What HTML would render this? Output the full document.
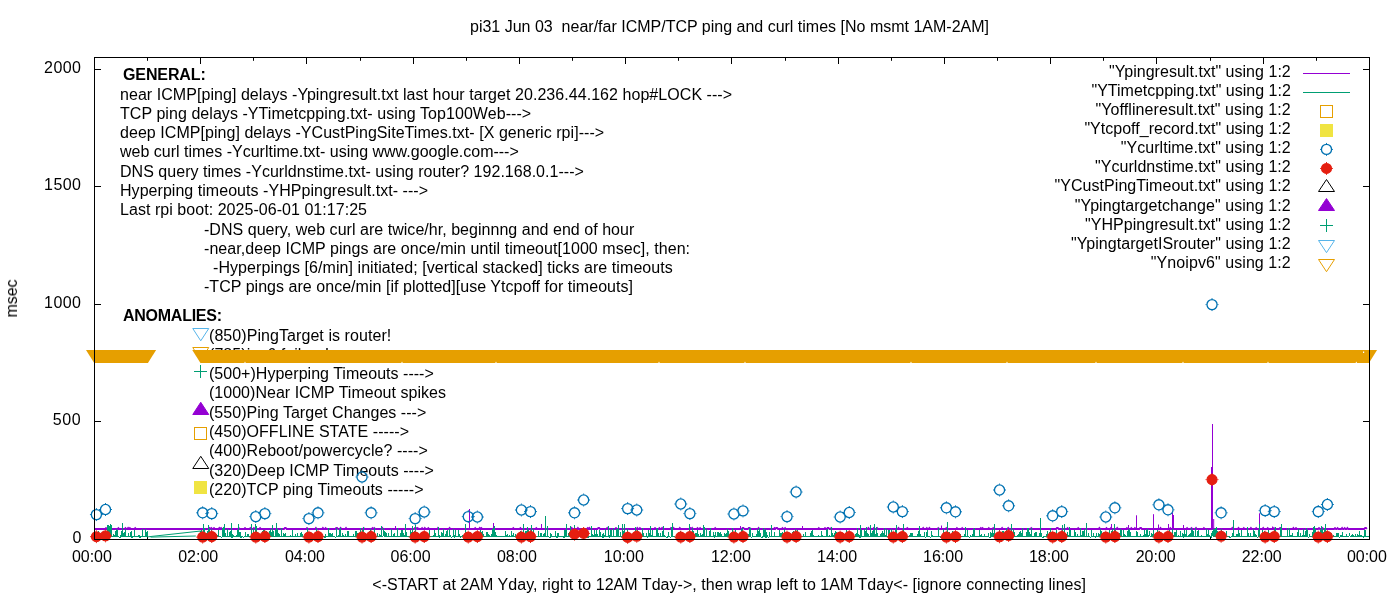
<!DOCTYPE html>
<html><head><meta charset="utf-8"><title>pi31 ping plot</title>
<style>html,body{margin:0;padding:0;background:#fff;overflow:hidden}svg{display:block}text{font-family:"Liberation Sans",Arial,sans-serif;font-size:16px;fill:#000}</style></head><body>
<svg width="1400" height="600" viewBox="0 0 1400 600">
<rect width="1400" height="600" fill="#fff"/>
<g style="will-change:transform">
<path d="M94.50 539.5v-6.5M94.50 57.5v6.5M147.50 539.5v-3.3M147.50 57.5v3.3M200.50 539.5v-6.5M200.50 57.5v6.5M253.50 539.5v-3.3M253.50 57.5v3.3M306.50 539.5v-6.5M306.50 57.5v6.5M360.50 539.5v-3.3M360.50 57.5v3.3M413.50 539.5v-6.5M413.50 57.5v6.5M466.50 539.5v-3.3M466.50 57.5v3.3M519.50 539.5v-6.5M519.50 57.5v6.5M572.50 539.5v-3.3M572.50 57.5v3.3M625.50 539.5v-6.5M625.50 57.5v6.5M678.50 539.5v-3.3M678.50 57.5v3.3M731.50 539.5v-6.5M731.50 57.5v6.5M785.50 539.5v-3.3M785.50 57.5v3.3M838.50 539.5v-6.5M838.50 57.5v6.5M891.50 539.5v-3.3M891.50 57.5v3.3M944.50 539.5v-6.5M944.50 57.5v6.5M997.50 539.5v-3.3M997.50 57.5v3.3M1050.50 539.5v-6.5M1050.50 57.5v6.5M1103.50 539.5v-3.3M1103.50 57.5v3.3M1156.50 539.5v-6.5M1156.50 57.5v6.5M1210.50 539.5v-3.3M1210.50 57.5v3.3M1263.50 539.5v-6.5M1263.50 57.5v6.5M1316.50 539.5v-3.3M1316.50 57.5v3.3M1369.50 539.5v-6.5M1369.50 57.5v6.5M94.5 539.50h6.5M1369.5 539.50h-6.5M94.5 421.50h6.5M1369.5 421.50h-6.5M94.5 304.50h6.5M1369.5 304.50h-6.5M94.5 186.50h6.5M1369.5 186.50h-6.5M94.5 69.50h6.5M1369.5 69.50h-6.5" stroke="#000" stroke-width="1" fill="none"/>
<text x="729.5" y="31.7" text-anchor="middle" xml:space="preserve">pi31 Jun 03  near/far ICMP/TCP ping and curl times [No msmt 1AM-2AM]</text>
<text transform="translate(17,298.5) rotate(-90)" text-anchor="middle">msec</text>
<text x="729.2" y="590" text-anchor="middle" letter-spacing="0.0396" xml:space="preserve">&lt;-START at 2AM Yday, right to 12AM Tday-&gt;, then wrap left to 1AM Tday&lt;- [ignore connecting lines]</text>
<text x="91.9" y="562" text-anchor="middle" xml:space="preserve">00:00</text>
<text x="198.2" y="562" text-anchor="middle" xml:space="preserve">02:00</text>
<text x="305.0" y="562" text-anchor="middle" xml:space="preserve">04:00</text>
<text x="410.6" y="562" text-anchor="middle" xml:space="preserve">06:00</text>
<text x="516.9" y="562" text-anchor="middle" xml:space="preserve">08:00</text>
<text x="623.8" y="562" text-anchor="middle" xml:space="preserve">10:00</text>
<text x="730.9" y="562" text-anchor="middle" xml:space="preserve">12:00</text>
<text x="837.1" y="562" text-anchor="middle" xml:space="preserve">14:00</text>
<text x="943.1" y="562" text-anchor="middle" xml:space="preserve">16:00</text>
<text x="1049.0" y="562" text-anchor="middle" xml:space="preserve">18:00</text>
<text x="1155.7" y="562" text-anchor="middle" xml:space="preserve">20:00</text>
<text x="1261.7" y="562" text-anchor="middle" xml:space="preserve">22:00</text>
<text x="1366.9" y="562" text-anchor="middle" xml:space="preserve">00:00</text>
<text x="81.3" y="542.8" text-anchor="end" xml:space="preserve">0</text>
<text x="81.3" y="424.8" text-anchor="end" letter-spacing="0.6000" xml:space="preserve">500</text>
<text x="81.3" y="307.8" text-anchor="end" letter-spacing="0.4000" xml:space="preserve">1000</text>
<text x="81.3" y="189.8" text-anchor="end" letter-spacing="0.4000" xml:space="preserve">1500</text>
<text x="81.3" y="72.8" text-anchor="end" letter-spacing="0.4000" xml:space="preserve">2000</text>
<text x="123" y="80" letter-spacing="-0.1143" font-weight="bold" xml:space="preserve">GENERAL:</text>
<text x="123" y="321" letter-spacing="-0.2556" font-weight="bold" xml:space="preserve">ANOMALIES:</text>
<text x="120" y="100" letter-spacing="0.0542" xml:space="preserve">near ICMP[ping] delays -Ypingresult.txt last hour target 20.236.44.162 hop#LOCK ---&gt;</text>
<text x="120" y="119" letter-spacing="0.0585" xml:space="preserve">TCP ping delays -YTimetcpping.txt- using Top100Web---&gt;</text>
<text x="120" y="138" letter-spacing="0.0485" xml:space="preserve">deep ICMP[ping] delays -YCustPingSiteTimes.txt- [X generic rpi]---&gt;</text>
<text x="120" y="157.4" xml:space="preserve">web curl times -Ycurltime.txt- using www.google.com---&gt;</text>
<text x="120" y="177" letter-spacing="0.0302" xml:space="preserve">DNS query times -Ycurldnstime.txt- using router? 192.168.0.1---&gt;</text>
<text x="120" y="196" letter-spacing="0.0405" xml:space="preserve">Hyperping timeouts -YHPpingresult.txt- ---&gt;</text>
<text x="120" y="215" letter-spacing="0.0455" xml:space="preserve">Last rpi boot: 2025-06-01 01:17:25</text>
<text x="204" y="234.5" letter-spacing="0.0328" xml:space="preserve">-DNS query, web curl are twice/hr, beginnng and end of hour</text>
<text x="204" y="253.5" letter-spacing="0.0523" xml:space="preserve">-near,deep ICMP pings are once/min until timeout[1000 msec], then:</text>
<text x="213" y="272.5" letter-spacing="0.0672" xml:space="preserve">-Hyperpings [6/min] initiated; [vertical stacked] ticks are timeouts</text>
<text x="204" y="291.5" letter-spacing="0.0344" xml:space="preserve">-TCP pings are once/min [if plotted][use Ytcpoff for timeouts]</text>
<text x="209" y="341" letter-spacing="0.0680" xml:space="preserve">(850)PingTarget is router!</text>
<text x="209" y="360" letter-spacing="0.0588" xml:space="preserve">(785)ipv6 failure!</text>
<text x="209" y="379" letter-spacing="0.0241" xml:space="preserve">(500+)Hyperping Timeouts ----&gt;</text>
<text x="209" y="398" letter-spacing="0.0241" xml:space="preserve">(1000)Near ICMP Timeout spikes</text>
<text x="209" y="418" letter-spacing="0.0357" xml:space="preserve">(550)Ping Target Changes ---&gt;</text>
<text x="209" y="437" letter-spacing="0.0417" xml:space="preserve">(450)OFFLINE STATE -----&gt;</text>
<text x="209" y="456" letter-spacing="0.0464" xml:space="preserve">(400)Reboot/powercycle? ----&gt;</text>
<text x="209" y="476" letter-spacing="0.0250" xml:space="preserve">(320)Deep ICMP Timeouts ----&gt;</text>
<text x="209" y="495" letter-spacing="0.0357" xml:space="preserve">(220)TCP ping Timeouts -----&gt;</text>
<text x="1290.8" y="77.1" text-anchor="end" letter-spacing="0.0308" xml:space="preserve">&quot;Ypingresult.txt&quot; using 1:2</text>
<text x="1290.8" y="96.2" text-anchor="end" xml:space="preserve">&quot;YTimetcpping.txt&quot; using 1:2</text>
<text x="1290.8" y="115.2" text-anchor="end" letter-spacing="0.0828" xml:space="preserve">&quot;Yofflineresult.txt&quot; using 1:2</text>
<text x="1290.8" y="134.3" text-anchor="end" letter-spacing="0.0172" xml:space="preserve">&quot;Ytcpoff_record.txt&quot; using 1:2</text>
<text x="1290.8" y="153.3" text-anchor="end" letter-spacing="0.0542" xml:space="preserve">&quot;Ycurltime.txt&quot; using 1:2</text>
<text x="1290.8" y="172.3" text-anchor="end" letter-spacing="0.0444" xml:space="preserve">&quot;Ycurldnstime.txt&quot; using 1:2</text>
<text x="1290.8" y="191.4" text-anchor="end" letter-spacing="0.0419" xml:space="preserve">&quot;YCustPingTimeout.txt&quot; using 1:2</text>
<text x="1290.8" y="210.5" text-anchor="end" letter-spacing="0.0714" xml:space="preserve">&quot;Ypingtargetchange&quot; using 1:2</text>
<text x="1290.8" y="229.5" text-anchor="end" letter-spacing="0.0500" xml:space="preserve">&quot;YHPpingresult.txt&quot; using 1:2</text>
<text x="1290.8" y="248.6" text-anchor="end" letter-spacing="0.0467" xml:space="preserve">&quot;YpingtargetISrouter&quot; using 1:2</text>
<text x="1290.8" y="267.6" text-anchor="end" letter-spacing="0.0722" xml:space="preserve">&quot;Ynoipv6&quot; using 1:2</text>
<path d="M192.75 328.50L200.75 340.80L208.75 328.50Z" fill="none" stroke="#56b4e9" stroke-width="1"/>
<path d="M192.75 347.50L200.75 360.20L208.75 347.50Z" fill="none" stroke="#e69f00" stroke-width="1"/>
<path d="M194.0 371.5h13M200.5 365.0v13" stroke="#009e73" stroke-width="1" fill="none"/>
<path d="M192.75 414.50L200.75 402.25L208.75 414.50Z" fill="#9400d3" stroke="#9400d3" stroke-width="1"/>
<rect x="194.5" y="427.5" width="12" height="12" fill="none" stroke="#e69f00" stroke-width="1"/>
<path d="M192.75 468.50L200.75 456.30L208.75 468.50Z" fill="none" stroke="#000" stroke-width="1"/>
<rect x="194.5" y="481.5" width="12" height="12" fill="#f0e442" stroke="#f0e442" stroke-width="1"/>
<path fill="none" stroke="#9400d3" stroke-width="1.8" stroke-linejoin="miter" d="M200.8 529.0L201.6 529.0L202.5 529.0L203.4 529.0L204.3 529.0L205.2 529.0L206.1 529.0L206.9 529.0L207.8 529.0L208.7 529.0L209.6 528.0L210.5 529.0L211.4 528.0L212.3 529.0L213.1 529.0L214.0 528.0L214.9 529.0L215.8 529.0L216.7 529.0L217.6 529.0L218.5 529.0L219.3 528.0L220.2 529.0L221.1 528.0L222.0 529.0L222.9 529.0L223.8 528.0L224.7 529.0L225.5 529.0L226.4 529.0L227.3 529.0L228.2 529.0L229.1 529.0L230.0 529.0L230.9 529.0L231.7 529.0L232.6 529.0L233.5 529.0L234.4 529.0L235.3 529.0L236.2 529.0L237.1 529.0L237.9 529.0L238.8 528.0L239.7 529.0L240.6 529.0L241.5 529.0L242.4 529.0L243.2 529.0L244.1 529.0L245.0 528.0L245.9 529.0L246.8 529.0L247.7 529.0L248.6 529.0L249.4 529.0L250.3 528.0L251.2 529.0L252.1 529.0L253.0 529.0L253.9 528.0L254.8 529.0L255.6 529.0L256.5 529.0L257.4 529.0L258.3 529.0L259.2 529.0L260.1 528.0L261.0 529.0L261.8 529.0L262.7 529.0L263.6 529.0L264.5 529.0L265.4 529.0L266.3 529.0L267.2 529.0L268.0 529.0L268.9 529.0L269.8 529.0L270.7 529.0L271.6 529.0L272.5 529.0L273.4 529.0L274.2 529.0L275.1 529.0L276.0 529.0L276.9 529.0L277.8 529.0L278.7 529.0L279.6 529.0L280.4 529.0L281.3 529.0L282.2 529.0L283.1 529.0L284.0 529.0L284.9 528.0L285.8 528.0L286.6 529.0L287.5 529.0L288.4 529.0L289.3 529.0L290.2 529.0L291.1 529.0L291.9 529.0L292.8 529.0L293.7 529.0L294.6 529.0L295.5 529.0L296.4 529.0L297.3 529.0L298.1 529.0L299.0 529.0L299.9 529.0L300.8 529.0L301.7 529.0L302.6 529.0L303.5 529.0L304.3 529.0L305.2 529.0L306.1 529.0L307.0 528.0L307.9 529.0L308.8 529.0L309.7 529.0L310.5 529.0L311.4 529.0L312.3 529.0L313.2 529.0L314.1 529.0L315.0 529.0L315.9 528.0L316.7 529.0L317.6 529.0L318.5 529.0L319.4 529.0L320.3 529.0L321.2 529.0L322.1 529.0L322.9 528.0L323.8 529.0L324.7 529.0L325.6 528.0L326.5 529.0L327.4 529.0L328.2 529.0L329.1 529.0L330.0 529.0L330.9 529.0L331.8 529.0L332.7 529.0L333.6 529.0L334.4 529.0L335.3 529.0L336.2 528.0L337.1 528.0L338.0 529.0L338.9 529.0L339.8 529.0L340.6 528.0L341.5 529.0L342.4 529.0L343.3 529.0L344.2 529.0L345.1 529.0L346.0 528.0L346.8 529.0L347.7 529.0L348.6 529.0L349.5 529.0L350.4 529.0L351.3 529.0L352.2 529.0L353.0 529.0L353.9 529.0L354.8 529.0L355.7 529.0L356.6 529.0L357.5 529.0L358.4 529.0L359.2 529.0L360.1 529.0L361.0 529.0L361.9 529.0L362.8 529.0L363.7 528.0L364.6 529.0L365.4 529.0L366.3 529.0L367.2 529.0L368.1 529.0L369.0 529.0L369.9 529.0L370.8 529.0L371.6 529.0L372.5 528.0L373.4 529.0L374.3 528.0L375.2 529.0L376.1 529.0L376.9 529.0L377.8 529.0L378.7 529.0L379.6 529.0L380.5 529.0L381.4 529.0L382.3 528.0L383.1 529.0L384.0 529.0L384.9 529.0L385.8 529.0L386.7 529.0L387.6 529.0L388.5 529.0L389.3 529.0L390.2 529.0L391.1 529.0L392.0 529.0L392.9 529.0L393.8 529.0L394.7 529.0L395.5 529.0L396.4 529.0L397.3 529.0L398.2 529.0L399.1 529.0L400.0 529.0L400.9 529.0L401.7 529.0L402.6 529.0L403.5 529.0L404.4 529.0L405.3 529.0L406.2 529.0L407.1 529.0L407.9 529.0L408.8 529.0L409.7 529.0L410.6 529.0L411.5 529.0L412.4 529.0L413.2 529.0L414.1 529.0L415.0 528.0L415.9 528.0L416.8 529.0L417.7 528.0L418.6 529.0L419.4 529.0L420.3 529.0L421.2 529.0L422.1 528.0L423.0 529.0L423.9 529.0L424.8 528.0L425.6 529.0L426.5 529.0L427.4 529.0L428.3 528.0L429.2 529.0L430.1 529.0L431.0 529.0L431.8 529.0L432.7 529.0L433.6 529.0L434.5 529.0L435.4 529.0L436.3 529.0L437.2 529.0L438.0 528.0L438.9 529.0L439.8 529.0L440.7 529.0L441.6 529.0L442.5 529.0L443.4 529.0L444.2 529.0L445.1 529.0L446.0 529.0L446.9 529.0L447.8 529.0L448.7 529.0L449.6 528.0L450.4 529.0L451.3 529.0L452.2 529.0L453.1 529.0L454.0 529.0L454.9 529.0L455.8 529.0L456.6 529.0L457.5 529.0L458.4 529.0L459.3 529.0L460.2 529.0L461.1 529.0L461.9 529.0L462.8 529.0L463.7 529.0L464.6 529.0L465.5 529.0L466.4 529.0L467.3 529.0L468.1 529.0L469.0 529.0L469.9 529.0L470.8 529.0L471.7 529.0L472.6 529.0L473.5 529.0L474.3 529.0L475.2 528.0L476.1 529.0L477.0 529.0L477.9 529.0L478.8 529.0L479.7 528.0L480.5 529.0L481.4 528.0L482.3 529.0L483.2 529.0L484.1 529.0L485.0 529.0L485.9 529.0L486.7 529.0L487.6 529.0L488.5 529.0L489.4 529.0L490.3 529.0L491.2 529.0L492.1 529.0L492.9 529.0L493.8 528.0L494.7 529.0L495.6 529.0L496.5 529.0L497.4 529.0L498.2 529.0L499.1 529.0L500.0 529.0L500.9 529.0L501.8 529.0L502.7 529.0L503.6 529.0L504.4 529.0L505.3 529.0L506.2 529.0L507.1 529.0L508.0 529.0L508.9 529.0L509.8 529.0L510.6 529.0L511.5 529.0L512.4 529.0L513.3 528.0L514.2 529.0L515.1 529.0L516.0 529.0L516.8 529.0L517.7 529.0L518.6 529.0L519.5 529.0L520.4 528.0L521.3 529.0L522.2 529.0L523.0 529.0L523.9 529.0L524.8 529.0L525.7 529.0L526.6 529.0L527.5 529.0L528.4 529.0L529.2 529.0L530.1 529.0L531.0 529.0L531.9 529.0L532.8 529.0L533.7 529.0L534.6 529.0L535.4 529.0L536.3 528.0L537.2 529.0L538.1 529.0L539.0 529.0L539.9 529.0L540.8 529.0L541.6 529.0L542.5 529.0L543.4 529.0L544.3 529.0L545.2 529.0L546.1 529.0L546.9 529.0L547.8 529.0L548.7 529.0L549.6 529.0L550.5 529.0L551.4 529.0L552.3 529.0L553.1 529.0L554.0 529.0L554.9 529.0L555.8 529.0L556.7 529.0L557.6 529.0L558.5 529.0L559.3 529.0L560.2 529.0L561.1 529.0L562.0 529.0L562.9 529.0L563.8 529.0L564.7 529.0L565.5 529.0L566.4 529.0L567.3 529.0L568.2 529.0L569.1 529.0L570.0 529.0L570.9 529.0L571.7 528.0L572.6 529.0L573.5 529.0L574.4 529.0L575.3 529.0L576.2 529.0L577.1 529.0L577.9 528.0L578.8 529.0L579.7 529.0L580.6 529.0L581.5 529.0L582.4 529.0L583.2 529.0L584.1 529.0L585.0 529.0L585.9 529.0L586.8 529.0L587.7 528.0L588.6 529.0L589.4 528.0L590.3 529.0L591.2 529.0L592.1 529.0L593.0 529.0L593.9 529.0L594.8 529.0L595.6 529.0L596.5 529.0L597.4 529.0L598.3 528.0L599.2 528.0L600.1 529.0L601.0 529.0L601.8 529.0L602.7 529.0L603.6 529.0L604.5 529.0L605.4 529.0L606.3 529.0L607.2 528.0L608.0 529.0L608.9 529.0L609.8 529.0L610.7 529.0L611.6 529.0L612.5 529.0L613.4 529.0L614.2 529.0L615.1 529.0L616.0 528.0L616.9 529.0L617.8 529.0L618.7 529.0L619.6 529.0L620.4 529.0L621.3 529.0L622.2 529.0L623.1 529.0L624.0 529.0L624.9 529.0L625.8 529.0L626.6 529.0L627.5 529.0L628.4 529.0L629.3 529.0L630.2 529.0L631.1 529.0L631.9 529.0L632.8 529.0L633.7 529.0L634.6 529.0L635.5 529.0L636.4 529.0L637.3 528.0L638.1 529.0L639.0 529.0L639.9 528.0L640.8 529.0L641.7 529.0L642.6 529.0L643.5 529.0L644.3 529.0L645.2 529.0L646.1 529.0L647.0 529.0L647.9 529.0L648.8 529.0L649.7 529.0L650.5 529.0L651.4 529.0L652.3 529.0L653.2 529.0L654.1 529.0L655.0 528.0L655.9 529.0L656.7 529.0L657.6 529.0L658.5 529.0L659.4 528.0L660.3 529.0L661.2 529.0L662.1 528.0L662.9 529.0L663.8 529.0L664.7 529.0L665.6 529.0L666.5 529.0L667.4 529.0L668.2 529.0L669.1 529.0L670.0 529.0L670.9 528.0L671.8 529.0L672.7 529.0L673.6 528.0L674.4 529.0L675.3 529.0L676.2 529.0L677.1 529.0L678.0 529.0L678.9 529.0L679.8 528.0L680.6 529.0L681.5 529.0L682.4 529.0L683.3 529.0L684.2 529.0L685.1 529.0L686.0 529.0L686.8 529.0L687.7 529.0L688.6 529.0L689.5 529.0L690.4 528.0L691.3 529.0L692.2 528.0L693.0 529.0L693.9 529.0L694.8 529.0L695.7 529.0L696.6 529.0L697.5 528.0L698.4 529.0L699.2 529.0L700.1 528.0L701.0 529.0L701.9 529.0L702.8 529.0L703.7 529.0L704.6 529.0L705.4 529.0L706.3 529.0L707.2 529.0L708.1 529.0L709.0 529.0L709.9 529.0L710.8 529.0L711.6 529.0L712.5 529.0L713.4 529.0L714.3 529.0L715.2 528.0L716.1 529.0L716.9 529.0L717.8 529.0L718.7 529.0L719.6 529.0L720.5 529.0L721.4 529.0L722.3 529.0L723.1 529.0L724.0 529.0L724.9 529.0L725.8 529.0L726.7 529.0L727.6 529.0L728.5 529.0L729.3 529.0L730.2 529.0L731.1 529.0L732.0 529.0L732.9 529.0L733.8 529.0L734.7 529.0L735.5 529.0L736.4 529.0L737.3 529.0L738.2 529.0L739.1 529.0L740.0 529.0L740.9 529.0L741.7 529.0L742.6 528.0L743.5 528.0L744.4 529.0L745.3 529.0L746.2 529.0L747.1 529.0L747.9 529.0L748.8 528.0L749.7 528.0L750.6 529.0L751.5 529.0L752.4 529.0L753.2 529.0L754.1 529.0L755.0 529.0L755.9 529.0L756.8 529.0L757.7 529.0L758.6 528.0L759.4 529.0L760.3 529.0L761.2 529.0L762.1 529.0L763.0 529.0L763.9 529.0L764.8 529.0L765.6 529.0L766.5 529.0L767.4 529.0L768.3 529.0L769.2 529.0L770.1 529.0L771.0 529.0L771.8 529.0L772.7 529.0L773.6 529.0L774.5 528.0L775.4 529.0L776.3 528.0L777.2 528.0L778.0 529.0L778.9 529.0L779.8 529.0L780.7 529.0L781.6 529.0L782.5 528.0L783.4 529.0L784.2 529.0L785.1 528.0L786.0 529.0L786.9 529.0L787.8 529.0L788.7 529.0L789.6 529.0L790.4 529.0L791.3 529.0L792.2 529.0L793.1 529.0L794.0 529.0L794.9 529.0L795.8 529.0L796.6 529.0L797.5 529.0L798.4 529.0L799.3 529.0L800.2 529.0L801.1 529.0L801.9 529.0L802.8 529.0L803.7 529.0L804.6 529.0L805.5 529.0L806.4 529.0L807.3 529.0L808.1 529.0L809.0 529.0L809.9 529.0L810.8 529.0L811.7 529.0L812.6 529.0L813.5 529.0L814.3 529.0L815.2 529.0L816.1 529.0L817.0 529.0L817.9 529.0L818.8 528.0L819.7 529.0L820.5 529.0L821.4 529.0L822.3 529.0L823.2 529.0L824.1 529.0L825.0 528.0L825.9 529.0L826.7 529.0L827.6 528.0L828.5 528.0L829.4 529.0L830.3 529.0L831.2 528.0L832.1 529.0L832.9 529.0L833.8 529.0L834.7 529.0L835.6 529.0L836.5 529.0L837.4 529.0L838.2 529.0L839.1 529.0L840.0 529.0L840.9 529.0L841.8 529.0L842.7 529.0L843.6 529.0L844.4 529.0L845.3 529.0L846.2 529.0L847.1 529.0L848.0 529.0L848.9 529.0L849.8 529.0L850.6 529.0L851.5 529.0L852.4 529.0L853.3 529.0L854.2 529.0L855.1 529.0L856.0 529.0L856.8 529.0L857.7 529.0L858.6 529.0L859.5 529.0L860.4 529.0L861.3 529.0L862.2 529.0L863.0 529.0L863.9 529.0L864.8 529.0L865.7 529.0L866.6 529.0L867.5 529.0L868.4 528.0L869.2 529.0L870.1 529.0L871.0 529.0L871.9 529.0L872.8 529.0L873.7 528.0L874.6 529.0L875.4 529.0L876.3 529.0L877.2 528.0L878.1 529.0L879.0 529.0L879.9 529.0L880.8 529.0L881.6 529.0L882.5 529.0L883.4 529.0L884.3 529.0L885.2 529.0L886.1 529.0L886.9 529.0L887.8 529.0L888.7 529.0L889.6 529.0L890.5 529.0L891.4 529.0L892.3 529.0L893.1 529.0L894.0 529.0L894.9 529.0L895.8 529.0L896.7 529.0L897.6 529.0L898.5 528.0L899.3 529.0L900.2 529.0L901.1 529.0L902.0 529.0L902.9 529.0L903.8 529.0L904.7 529.0L905.5 529.0L906.4 529.0L907.3 528.0L908.2 529.0L909.1 529.0L910.0 529.0L910.9 529.0L911.7 529.0L912.6 529.0L913.5 529.0L914.4 529.0L915.3 529.0L916.2 529.0L917.1 529.0L917.9 529.0L918.8 529.0L919.7 529.0L920.6 529.0L921.5 529.0L922.4 529.0L923.2 528.0L924.1 529.0L925.0 529.0L925.9 529.0L926.8 528.0L927.7 529.0L928.6 529.0L929.4 528.0L930.3 529.0L931.2 529.0L932.1 529.0L933.0 529.0L933.9 529.0L934.8 529.0L935.6 529.0L936.5 529.0L937.4 529.0L938.3 528.0L939.2 529.0L940.1 529.0L941.0 529.0L941.8 529.0L942.7 529.0L943.6 529.0L944.5 529.0L945.4 529.0L946.3 528.0L947.2 529.0L948.0 529.0L948.9 529.0L949.8 529.0L950.7 529.0L951.6 529.0L952.5 529.0L953.4 529.0L954.2 529.0L955.1 529.0L956.0 529.0L956.9 528.0L957.8 529.0L958.7 529.0L959.6 529.0L960.4 529.0L961.3 529.0L962.2 528.0L963.1 529.0L964.0 529.0L964.9 529.0L965.8 529.0L966.6 529.0L967.5 529.0L968.4 529.0L969.3 529.0L970.2 529.0L971.1 529.0L971.9 529.0L972.8 529.0L973.7 529.0L974.6 529.0L975.5 529.0L976.4 529.0L977.3 529.0L978.1 529.0L979.0 529.0L979.9 529.0L980.8 528.0L981.7 529.0L982.6 528.0L983.5 529.0L984.3 529.0L985.2 529.0L986.1 529.0L987.0 529.0L987.9 529.0L988.8 528.0L989.7 529.0L990.5 529.0L991.4 529.0L992.3 529.0L993.2 528.0L994.1 529.0L995.0 529.0L995.9 529.0L996.7 529.0L997.6 529.0L998.5 529.0L999.4 529.0L1000.3 529.0L1001.2 529.0L1002.1 528.0L1002.9 529.0L1003.8 529.0L1004.7 529.0L1005.6 529.0L1006.5 529.0L1007.4 529.0L1008.2 528.0L1009.1 529.0L1010.0 529.0L1010.9 529.0L1011.8 529.0L1012.7 529.0L1013.6 529.0L1014.4 529.0L1015.3 529.0L1016.2 529.0L1017.1 529.0L1018.0 529.0L1018.9 529.0L1019.8 529.0L1020.6 529.0L1021.5 529.0L1022.4 529.0L1023.3 529.0L1024.2 529.0L1025.1 529.0L1026.0 529.0L1026.8 529.0L1027.7 529.0L1028.6 529.0L1029.5 529.0L1030.4 529.0L1031.3 528.0L1032.2 529.0L1033.0 529.0L1033.9 529.0L1034.8 529.0L1035.7 529.0L1036.6 529.0L1037.5 529.0L1038.4 529.0L1039.2 529.0L1040.1 529.0L1041.0 529.0L1041.9 529.0L1042.8 529.0L1043.7 529.0L1044.6 529.0L1045.4 529.0L1046.3 529.0L1047.2 529.0L1048.1 529.0L1049.0 529.0L1049.9 529.0L1050.8 529.0L1051.6 529.0L1052.5 529.0L1053.4 529.0L1054.3 529.0L1055.2 529.0L1056.1 529.0L1056.9 528.0L1057.8 528.0L1058.7 529.0L1059.6 529.0L1060.5 529.0L1061.4 529.0L1062.3 529.0L1063.1 529.0L1064.0 529.0L1064.9 529.0L1065.8 529.0L1066.7 529.0L1067.6 528.0L1068.5 529.0L1069.3 529.0L1070.2 529.0L1071.1 529.0L1072.0 529.0L1072.9 529.0L1073.8 529.0L1074.7 529.0L1075.5 529.0L1076.4 529.0L1077.3 529.0L1078.2 528.0L1079.1 529.0L1080.0 529.0L1080.9 529.0L1081.7 529.0L1082.6 529.0L1083.5 529.0L1084.4 529.0L1085.3 529.0L1086.2 529.0L1087.1 529.0L1087.9 529.0L1088.8 529.0L1089.7 529.0L1090.6 529.0L1091.5 529.0L1092.4 529.0L1093.2 529.0L1094.1 529.0L1095.0 529.0L1095.9 529.0L1096.8 529.0L1097.7 529.0L1098.6 529.0L1099.4 528.0L1100.3 529.0L1101.2 529.0L1102.1 529.0L1103.0 529.0L1103.9 529.0L1104.8 529.0L1105.6 529.0L1106.5 528.0L1107.4 529.0L1108.3 529.0L1109.2 529.0L1110.1 529.0L1111.0 528.0L1111.8 529.0L1112.7 529.0L1113.6 529.0L1114.5 529.0L1115.4 529.0L1116.3 529.0L1117.2 528.0L1118.0 529.0L1118.9 529.0L1119.8 529.0L1120.7 529.0L1121.6 529.0L1122.5 529.0L1123.4 529.0L1124.2 529.0L1125.1 529.0L1126.0 529.0L1126.9 528.0L1127.8 529.0L1128.7 529.0L1129.6 529.0L1130.4 529.0L1131.3 528.0L1132.2 529.0L1133.1 529.0L1134.0 529.0L1134.9 528.0L1135.8 529.0L1136.6 529.0L1137.5 529.0L1138.4 529.0L1139.3 529.0L1140.2 528.0L1141.1 528.0L1141.9 529.0L1142.8 529.0L1143.7 529.0L1144.6 529.0L1145.5 529.0L1146.4 529.0L1147.3 529.0L1148.1 529.0L1149.0 529.0L1149.9 529.0L1150.8 529.0L1151.7 529.0L1152.6 529.0L1153.5 529.0L1154.3 529.0L1155.2 529.0L1156.1 529.0L1157.0 529.0L1157.9 529.0L1158.8 529.0L1159.7 529.0L1160.5 528.0L1161.4 529.0L1162.3 529.0L1163.2 529.0L1164.1 529.0L1165.0 529.0L1165.9 529.0L1166.7 529.0L1167.6 529.0L1168.5 529.0L1169.4 529.0L1170.3 528.0L1171.2 529.0L1172.1 529.0L1172.9 529.0L1173.8 529.0L1174.7 529.0L1175.6 529.0L1176.5 529.0L1177.4 529.0L1178.2 529.0L1179.1 529.0L1180.0 529.0L1180.9 529.0L1181.8 529.0L1182.7 529.0L1183.6 529.0L1184.4 529.0L1185.3 529.0L1186.2 529.0L1187.1 528.0L1188.0 529.0L1188.9 529.0L1189.8 529.0L1190.6 529.0L1191.5 528.0L1192.4 529.0L1193.3 529.0L1194.2 529.0L1195.1 529.0L1196.0 528.0L1196.8 529.0L1197.7 529.0L1198.6 529.0L1199.5 529.0L1200.4 529.0L1201.3 529.0L1202.2 529.0L1203.0 529.0L1203.9 528.0L1204.8 529.0L1205.7 529.0L1206.6 529.0L1207.5 529.0L1208.4 529.0L1209.2 529.0L1210.1 529.0L1211.0 529.0L1211.9 529.0L1212.8 529.0L1213.7 529.0L1214.6 529.0L1215.4 529.0L1216.3 529.0L1217.2 529.0L1218.1 529.0L1219.0 529.0L1219.9 529.0L1220.8 529.0L1221.6 529.0L1222.5 529.0L1223.4 529.0L1224.3 529.0L1225.2 529.0L1226.1 529.0L1226.9 529.0L1227.8 529.0L1228.7 529.0L1229.6 529.0L1230.5 529.0L1231.4 529.0L1232.3 528.0L1233.1 529.0L1234.0 529.0L1234.9 529.0L1235.8 529.0L1236.7 529.0L1237.6 529.0L1238.5 528.0L1239.3 529.0L1240.2 529.0L1241.1 529.0L1242.0 529.0L1242.9 529.0L1243.8 528.0L1244.7 529.0L1245.5 529.0L1246.4 529.0L1247.3 529.0L1248.2 529.0L1249.1 529.0L1250.0 529.0L1250.9 528.0L1251.7 529.0L1252.6 529.0L1253.5 529.0L1254.4 529.0L1255.3 529.0L1256.2 528.0L1257.1 529.0L1257.9 529.0L1258.8 529.0L1259.7 529.0L1260.6 529.0L1261.5 529.0L1262.4 529.0L1263.2 528.0L1264.1 529.0L1265.0 529.0L1265.9 529.0L1266.8 529.0L1267.7 528.0L1268.6 529.0L1269.4 529.0L1270.3 529.0L1271.2 529.0L1272.1 529.0L1273.0 529.0L1273.9 528.0L1274.8 529.0L1275.6 529.0L1276.5 529.0L1277.4 529.0L1278.3 529.0L1279.2 529.0L1280.1 528.0L1281.0 528.0L1281.8 529.0L1282.7 529.0L1283.6 529.0L1284.5 529.0L1285.4 529.0L1286.3 529.0L1287.2 529.0L1288.0 529.0L1288.9 529.0L1289.8 529.0L1290.7 529.0L1291.6 529.0L1292.5 529.0L1293.4 528.0L1294.2 529.0L1295.1 529.0L1296.0 528.0L1296.9 529.0L1297.8 529.0L1298.7 529.0L1299.6 529.0L1300.4 529.0L1301.3 529.0L1302.2 529.0L1303.1 529.0L1304.0 529.0L1304.9 529.0L1305.8 529.0L1306.6 529.0L1307.5 529.0L1308.4 529.0L1309.3 529.0L1310.2 529.0L1311.1 529.0L1311.9 529.0L1312.8 529.0L1313.7 529.0L1314.6 529.0L1315.5 529.0L1316.4 529.0L1317.3 529.0L1318.1 529.0L1319.0 528.0L1319.9 529.0L1320.8 529.0L1321.7 529.0L1322.6 528.0L1323.5 529.0L1324.3 529.0L1325.2 529.0L1326.1 529.0L1327.0 529.0L1327.9 529.0L1328.8 529.0L1329.7 529.0L1330.5 529.0L1331.4 529.0L1332.3 529.0L1333.2 529.0L1334.1 529.0L1335.0 528.0L1335.9 529.0L1336.7 529.0L1337.6 528.0L1338.5 529.0L1339.4 529.0L1340.3 529.0L1341.2 529.0L1342.1 528.0L1342.9 529.0L1343.8 529.0L1344.7 528.0L1345.6 529.0L1346.5 529.0L1347.4 528.0L1348.2 529.0L1349.1 529.0L1350.0 529.0L1350.9 529.0L1351.8 529.0L1352.7 529.0L1353.6 529.0L1354.4 529.0L1355.3 529.0L1356.2 529.0L1357.1 529.0L1358.0 529.0L1358.9 529.0L1359.8 529.0L1360.6 529.0L1361.5 529.0L1362.4 529.0L1363.3 529.0L1364.2 529.0L1365.1 528.0L1366.0 528.0L1366.8 529.0M94.5 529.0L95.4 529.0L96.3 529.0L97.2 529.0L98.0 529.0L98.9 529.0L99.8 529.0L100.7 529.0L101.6 529.0L102.5 529.0L103.4 529.0L104.2 529.0L105.1 529.0L106.0 528.0L106.9 529.0L107.8 529.0L108.7 528.0L109.6 529.0L110.4 529.0L111.3 529.0L112.2 529.0L113.1 529.0L114.0 529.0L114.9 529.0L115.8 529.0L116.6 529.0L117.5 529.0L118.4 528.0L119.3 529.0L120.2 529.0L121.1 529.0L121.9 529.0L122.8 529.0L123.7 529.0L124.6 529.0L125.5 528.0L126.4 529.0L127.3 529.0L128.1 528.0L129.0 529.0L129.9 528.0L130.8 529.0L131.7 529.0L132.6 529.0L133.5 529.0L134.3 529.0L135.2 528.0L136.1 529.0L137.0 529.0L137.9 529.0L138.8 529.0L139.7 529.0L140.5 529.0L141.4 529.0L142.3 529.0L143.2 529.0L144.1 529.0L145.0 529.0L145.9 529.0L146.7 529.0M146.7 529.0L200.8 529.0"/>
<path fill="none" stroke="#9400d3" stroke-width="1" stroke-linejoin="miter" stroke-miterlimit="20" d="M469.5 529V509.0M493.5 529V523.0M1136.5 529V515.3M1153.5 529V514.2M1168.5 529V524.0M1172.5 529V512.5M1259.5 529V513.3M1111.5 529V524.0M1128.5 529V525.0M541.5 529V524.0M395.5 529V526.0M802.5 529V526.0M941.5 529V525.5M740.5 529V526.0M1158.5 529V524.5M1183.5 529V525.0M1272.5 529V526.5M1211.5 529V467M1212.5 529V424M1213.7 529V519M1173.5 529V515"/>
<path fill="none" stroke="#009e73" stroke-width="1" d="M147.0 536.8L148.1 536.8L200.8 531.0M150.6 537.1L195.8 536.0"/>
<path fill="none" shape-rendering="crispEdges" stroke="#009e73" stroke-width="1" stroke-linejoin="bevel" d="M200.83 536.8L201.05 529.8L201.27 536.8L201.94 536.7L202.60 536.8L202.82 532.9L203.04 536.8L203.49 536.8L203.71 524.0L203.93 526.4L204.59 536.9L205.48 537.6L206.14 536.8L206.36 533.2L206.58 536.8L207.25 536.8L207.91 536.8L208.13 525.0L208.35 527.9L209.02 536.9L209.68 536.8L209.90 528.7L210.12 536.8L210.79 536.7L211.46 536.8L211.68 529.1L211.90 536.8L212.56 536.6L213.45 536.6L214.11 536.8L214.33 533.8L214.55 536.8L215.22 537.0L216.10 536.8L216.77 536.8L216.99 534.5L217.21 536.8L217.87 537.0L218.54 536.8L218.76 529.9L218.98 536.8L219.64 536.6L220.53 536.7L221.41 537.6L222.08 536.8L222.30 527.9L222.52 536.8L223.19 536.7L223.85 536.8L224.07 523.7L224.29 536.8L224.96 536.9L225.62 536.8L225.84 533.4L226.06 536.8L226.73 536.7L227.39 536.8L227.61 529.3L227.83 536.8L228.50 536.7L229.16 536.8L229.38 531.6L229.60 536.8L230.27 536.7L230.93 536.8L231.15 523.2L231.37 536.8L232.04 537.6L232.71 536.8L232.93 534.3L233.15 536.8L233.81 536.7L234.70 537.0L235.58 536.6L236.47 536.7L236.85 536.8L237.35 529.9L237.85 536.8L238.02 536.8L238.24 524.3L238.46 536.8L239.12 536.7L239.79 536.8L240.01 532.5L240.23 536.6L240.89 537.6L241.78 536.6L242.66 536.7L243.55 537.6L244.44 536.6L245.10 536.8L245.32 531.6L245.54 536.8L246.21 536.9L246.87 536.8L247.09 535.2L247.31 536.8L247.76 536.8L247.98 534.1L248.20 536.8L248.86 537.0L249.75 536.7L250.63 536.7L251.30 536.8L251.52 524.5L251.74 536.8L252.40 536.9L253.07 536.8L253.29 528.8L253.51 536.8L254.18 536.6L255.06 536.7L255.45 536.8L255.95 524.4L256.45 536.8L256.83 537.0L257.72 536.7L258.60 536.6L259.49 537.0L260.37 536.7L261.04 536.8L261.26 534.3L261.48 536.8L262.14 537.0L262.81 536.8L263.03 530.3L263.25 536.8L263.91 536.8L264.58 536.8L264.80 529.7L265.02 536.8L265.69 536.6L266.35 536.8L266.57 530.7L266.79 533.1L267.46 536.9L268.34 537.0L269.23 536.6L269.61 536.8L270.11 529.1L270.61 536.8L270.78 536.8L271.00 531.6L271.22 533.8L271.88 536.7L272.27 536.8L272.77 525.0L273.27 536.8L273.65 536.6L274.54 536.6L275.20 536.8L275.43 530.2L275.65 534.8L276.09 536.8L276.31 523.2L276.53 536.8L276.98 536.8L277.20 528.7L277.42 536.8L278.08 537.0L278.75 536.8L278.97 533.0L279.19 536.8L279.63 536.8L279.85 535.3L280.07 536.8L280.74 536.6L281.40 536.8L281.62 528.1L281.84 536.8L282.51 536.9L283.17 536.8L283.39 532.9L283.61 536.8L284.28 537.0L284.66 536.8L285.16 533.0L285.66 536.8L286.05 536.7L286.94 536.9L287.82 536.8L288.71 537.0L289.59 536.7L290.26 536.8L290.48 534.9L290.70 536.8L291.36 536.7L292.03 536.8L292.25 530.0L292.47 536.8L293.13 537.0L294.02 536.9L294.90 536.6L295.57 536.8L295.79 533.7L296.01 536.8L296.68 536.6L297.34 536.8L297.56 533.5L297.78 536.8L298.45 537.0L299.33 536.8L300.22 536.7L300.60 536.8L301.10 532.4L301.60 535.6L301.99 536.9L302.65 536.8L302.87 533.8L303.09 536.8L303.76 536.7L304.64 536.7L305.31 536.8L305.53 533.0L305.75 536.8L306.41 537.0L307.08 536.8L307.30 528.5L307.52 536.8L308.19 537.0L309.07 536.8L309.74 536.8L309.96 534.7L310.18 536.8L310.84 536.6L311.73 536.7L312.39 536.8L312.61 533.7L312.83 536.8L313.50 536.8L314.16 536.8L314.38 534.9L314.60 536.8L315.27 537.0L315.93 536.8L316.15 528.0L316.37 532.3L317.04 536.8L317.93 536.7L318.59 536.8L318.81 531.8L319.03 536.8L319.70 536.6L320.36 536.8L320.58 533.9L320.80 536.8L321.47 537.0L322.35 536.9L323.24 536.8L324.12 536.8L325.01 537.6L325.67 536.8L325.89 534.0L326.11 536.8L326.78 536.7L327.66 536.7L328.33 536.8L328.55 528.0L328.77 530.1L329.44 536.7L330.10 536.8L330.32 533.3L330.54 536.8L331.21 536.8L331.87 536.8L332.09 532.8L332.31 536.8L332.98 537.0L333.86 536.9L334.75 537.0L335.63 537.0L336.30 536.8L336.52 528.3L336.74 536.8L337.40 537.0L338.07 536.8L338.29 535.1L338.51 536.8L339.18 536.8L339.84 536.8L340.06 527.6L340.28 530.9L340.95 536.8L341.83 536.7L342.22 536.8L342.72 532.8L343.22 536.8L343.60 536.6L344.49 536.8L345.15 536.8L345.37 533.7L345.59 536.0L346.26 536.6L347.14 536.9L347.81 536.8L348.03 531.1L348.25 533.4L348.91 536.8L349.80 536.6L350.69 536.8L351.57 537.0L352.46 536.8L353.12 536.8L353.34 534.5L353.56 536.8L354.23 536.7L355.11 536.7L355.78 536.8L356.00 530.8L356.22 535.5L356.88 536.7L357.27 536.8L357.77 533.4L358.27 536.8L358.65 536.8L359.54 537.0L360.20 536.8L360.43 528.4L360.65 536.8L361.31 536.9L362.20 536.8L362.86 536.8L363.08 526.6L363.30 530.8L363.97 536.9L364.85 536.6L365.52 536.8L365.74 533.3L365.96 536.8L366.62 536.7L367.51 537.0L368.39 537.0L369.06 536.8L369.28 531.3L369.50 536.8L369.94 536.8L370.16 529.2L370.38 532.3L371.05 536.8L371.94 537.0L372.82 536.7L373.71 536.6L374.09 536.8L374.59 528.3L375.09 536.8L375.48 537.0L376.36 536.6L377.03 536.8L377.25 532.6L377.47 536.6L378.13 536.8L379.02 536.6L379.68 536.8L379.90 533.9L380.12 536.8L380.79 536.8L381.45 536.8L381.68 526.0L381.90 536.8L382.56 537.0L382.95 536.8L383.45 527.7L383.95 529.7L384.33 536.9L385.00 536.8L385.22 532.2L385.44 536.8L385.60 536.8L386.10 532.8L386.60 534.9L386.99 536.9L387.87 536.9L388.54 536.8L388.76 532.7L388.98 536.8L389.64 536.7L390.53 536.7L391.19 536.8L391.41 529.5L391.63 536.8L392.30 536.6L393.19 536.8L393.85 536.8L394.07 533.2L394.29 536.8L394.96 537.0L395.84 536.7L396.73 536.9L397.39 536.8L397.61 528.4L397.83 536.8L398.50 537.0L399.38 537.0L400.05 536.8L400.27 532.9L400.49 535.9L401.15 536.7L401.54 536.8L402.04 530.1L402.54 536.8L402.93 536.6L403.31 536.8L403.81 533.1L404.31 536.8L404.70 536.6L405.36 536.8L405.58 524.4L405.80 536.8L406.25 536.8L406.47 532.3L406.69 536.8L407.35 537.0L408.24 536.7L409.12 536.6L410.01 536.8L410.39 536.8L410.89 530.4L411.39 536.8L411.78 536.7L412.44 536.8L412.66 525.8L412.88 536.8L413.55 536.9L413.94 536.8L414.44 530.7L414.94 536.8L415.10 536.8L415.32 525.0L415.54 529.9L416.21 536.8L417.09 536.6L417.76 536.8L417.98 532.6L418.20 536.1L418.86 536.6L419.75 536.6L420.63 536.7L421.52 536.7L422.40 536.8L423.29 536.8L424.18 536.7L424.84 536.8L425.06 532.0L425.28 536.8L425.73 536.8L425.95 533.0L426.17 536.8L426.83 537.0L427.72 536.9L428.60 536.8L429.27 536.8L429.49 529.7L429.71 536.8L430.37 536.9L431.26 536.8L432.14 537.0L433.03 536.6L433.69 536.8L433.91 534.8L434.13 536.8L434.58 536.8L434.80 529.9L435.02 533.4L435.69 537.0L436.57 536.6L437.46 537.0L438.12 536.8L438.34 526.6L438.56 531.0L439.23 537.0L440.11 537.0L441.00 536.7L441.38 536.8L441.88 532.1L442.38 536.8L442.77 536.6L443.43 536.8L443.65 529.4L443.87 536.8L444.54 536.9L445.43 536.6L445.81 536.8L446.31 531.5L446.81 536.8L446.98 536.8L447.20 530.2L447.42 536.8L448.08 536.9L448.97 536.9L449.63 536.8L449.85 529.4L450.07 536.8L450.74 537.0L451.62 537.0L452.51 536.9L453.17 536.8L453.39 529.5L453.61 536.8L454.28 537.6L454.94 536.8L455.16 530.1L455.38 536.8L456.05 536.7L456.94 536.6L457.82 537.0L458.49 536.8L458.71 529.8L458.93 536.8L459.37 536.8L459.59 533.7L459.81 536.8L460.48 537.0L461.36 537.0L462.03 536.8L462.25 534.6L462.47 536.8L463.13 536.9L463.80 536.8L464.02 534.6L464.24 536.8L464.90 536.8L465.57 536.8L465.79 523.8L466.01 536.8L466.68 536.6L467.56 536.9L468.45 536.9L469.11 536.8L469.33 534.5L469.55 536.8L470.22 537.6L471.10 536.8L471.99 537.0L472.87 536.7L473.54 536.8L473.76 533.4L473.98 536.8L474.64 537.0L475.53 536.9L476.41 536.8L477.30 536.9L478.19 536.9L479.07 537.0L479.96 537.0L480.62 536.8L480.84 529.8L481.06 532.7L481.73 536.9L482.39 536.8L482.61 530.9L482.83 534.6L483.28 536.8L483.50 534.5L483.72 536.8L484.38 536.9L485.27 537.0L486.15 536.6L486.82 536.8L487.04 531.8L487.26 536.8L487.93 536.9L488.59 536.8L488.81 534.5L489.03 536.8L489.48 536.8L489.70 534.7L489.92 536.8L490.58 536.8L491.47 536.9L491.85 536.8L492.35 529.3L492.85 536.8L493.24 536.8L493.62 536.8L494.12 526.1L494.62 536.8L495.01 536.7L495.67 536.8L495.89 531.7L496.11 536.8L496.78 536.6L497.66 536.6L498.55 537.0L499.44 536.6L500.32 536.9L501.21 536.9L502.09 537.0L502.98 536.9L503.86 536.7L504.75 536.8L505.13 536.8L505.63 530.7L506.13 536.8L506.52 536.6L507.18 536.8L507.40 533.7L507.62 536.8L508.29 536.7L508.68 536.8L509.18 535.0L509.68 536.8L510.06 536.9L510.95 536.6L511.61 536.8L511.83 530.6L512.05 536.8L512.72 536.9L513.38 536.8L513.60 532.8L513.82 536.8L514.49 536.9L515.15 536.8L515.37 533.8L515.59 536.8L516.26 536.7L517.14 536.6L518.03 536.7L518.91 536.8L519.80 537.0L520.47 536.8L520.69 531.0L520.91 536.8L521.57 536.8L522.46 536.8L523.12 536.8L523.34 524.5L523.56 536.8L524.23 536.9L525.11 537.0L525.78 536.8L526.00 531.1L526.22 536.8L526.88 537.0L527.55 536.8L527.77 527.3L527.99 536.8L528.43 536.8L528.65 530.3L528.87 533.9L529.32 536.8L529.54 535.3L529.76 536.8L530.42 536.6L531.09 536.8L531.31 525.5L531.53 536.8L532.20 536.8L532.86 536.8L533.08 529.0L533.30 536.8L533.97 536.9L534.85 536.9L535.74 536.9L536.62 536.8L537.51 536.7L538.17 536.8L538.39 531.4L538.61 536.8L539.28 536.7L540.16 536.8L540.55 536.8L541.05 533.2L541.55 536.8L541.94 537.0L542.82 536.7L543.49 536.8L543.71 534.5L543.93 536.8L544.09 536.8L544.59 533.3L545.09 536.8L545.26 536.8L545.48 516.3L545.70 536.8L546.36 537.0L547.03 536.8L547.25 526.5L547.47 536.8L548.13 536.6L549.02 536.8L549.90 537.6L550.57 536.8L550.79 533.4L551.01 536.8L551.45 536.8L551.67 533.9L551.89 536.8L552.56 536.9L553.45 536.6L554.33 537.0L555.00 536.8L555.22 531.4L555.44 536.8L556.10 536.6L556.99 537.6L557.65 536.8L557.87 532.7L558.09 536.5L558.54 536.8L558.76 532.8L558.98 536.8L559.64 536.9L560.53 536.8L561.41 536.8L562.30 536.8L563.19 536.6L564.07 537.6L564.74 536.8L564.96 529.8L565.18 532.2L565.84 536.7L566.51 536.8L566.73 523.7L566.95 536.8L567.61 536.9L568.00 536.8L568.50 533.6L569.00 535.9L569.16 536.8L569.38 531.9L569.60 536.8L569.77 536.8L570.27 526.1L570.77 530.6L571.15 536.6L572.04 536.6L572.70 536.8L572.92 534.3L573.14 536.8L573.81 536.8L574.48 536.8L574.70 524.7L574.92 536.8L575.58 536.6L576.25 536.8L576.47 532.5L576.69 536.8L577.35 537.0L578.02 536.8L578.24 534.5L578.46 536.8L579.12 537.0L580.01 536.7L580.89 536.8L581.28 536.8L581.78 534.7L582.28 536.8L582.66 536.6L583.55 536.9L584.22 536.8L584.44 532.4L584.66 536.8L585.32 537.0L585.99 536.8L586.21 531.9L586.43 536.8L587.09 537.6L587.98 537.6L588.86 536.8L589.75 537.0L590.63 536.9L591.30 536.8L591.52 526.0L591.74 530.0L592.18 536.8L592.40 534.7L592.62 536.8L593.29 536.7L593.95 536.8L594.17 530.3L594.39 536.8L595.06 537.0L595.73 536.8L595.95 533.8L596.17 536.8L596.61 536.8L596.83 529.8L597.05 536.8L597.50 536.8L597.72 533.6L597.94 536.8L598.60 536.8L599.27 536.8L599.49 530.0L599.71 536.8L599.87 536.8L600.37 532.5L600.87 536.8L601.26 537.0L601.92 536.8L602.14 534.4L602.36 536.8L603.03 537.6L603.69 536.8L603.91 532.9L604.13 536.8L604.80 536.8L605.47 536.8L605.69 528.9L605.91 536.8L606.57 537.0L607.46 536.6L608.12 536.8L608.34 526.3L608.56 531.0L609.23 537.6L610.11 536.8L610.78 536.8L611.00 529.1L611.22 536.8L611.88 536.9L612.77 536.9L613.43 536.8L613.65 528.5L613.87 536.8L614.54 536.9L615.42 536.6L616.09 536.8L616.31 528.6L616.53 536.8L617.20 536.9L617.86 536.8L618.08 525.3L618.30 536.8L618.97 536.9L619.85 537.0L620.52 536.8L620.74 531.8L620.96 536.8L621.62 536.6L622.29 536.8L622.51 524.0L622.73 526.9L623.39 536.6L624.06 536.8L624.28 523.9L624.50 526.6L625.16 536.8L626.05 536.8L626.94 536.6L627.60 536.8L627.82 529.5L628.04 536.8L628.71 536.9L629.59 536.8L630.48 537.6L631.36 537.0L632.25 537.0L632.91 536.8L633.13 534.8L633.35 536.8L634.02 536.8L634.90 536.8L635.57 536.8L635.79 526.9L636.01 536.8L636.67 536.6L637.34 536.8L637.56 530.3L637.78 536.8L638.45 537.0L639.33 536.6L640.22 536.7L641.10 536.8L641.99 536.7L642.65 536.8L642.87 528.0L643.09 536.8L643.54 536.8L643.76 533.2L643.98 536.8L644.64 536.8L645.53 536.7L646.19 536.8L646.41 532.9L646.63 536.8L647.30 537.6L647.97 536.8L648.19 529.7L648.41 534.6L649.07 537.0L649.74 536.8L649.96 532.8L650.18 536.8L650.62 536.8L650.84 525.6L651.06 536.8L651.73 536.9L652.39 536.8L652.61 530.1L652.83 536.8L653.50 536.9L654.38 536.6L655.27 536.7L656.15 536.8L656.82 536.8L657.04 528.1L657.26 536.8L657.92 536.8L658.59 536.8L658.81 533.0L659.03 536.8L659.70 536.9L660.36 536.8L660.58 533.0L660.80 536.8L661.47 536.7L662.35 536.7L662.74 536.8L663.24 526.2L663.74 528.7L663.90 536.8L664.12 534.8L664.34 536.8L665.01 536.9L665.89 537.0L666.78 537.6L667.66 536.8L668.33 536.8L668.55 531.7L668.77 536.8L669.44 536.7L670.32 537.6L671.21 536.7L671.87 536.8L672.09 523.0L672.31 536.8L672.98 536.7L673.86 536.7L674.75 536.7L675.63 537.6L676.52 537.6L677.18 536.8L677.40 533.7L677.62 536.8L678.29 536.8L679.17 536.9L680.06 537.0L680.73 536.8L680.95 531.0L681.17 536.8L681.83 537.0L682.50 536.8L682.72 534.6L682.94 536.8L683.38 536.8L683.60 533.8L683.82 536.3L684.49 536.9L685.37 536.7L686.04 536.8L686.26 533.1L686.48 536.8L687.14 536.9L687.81 536.8L688.03 535.1L688.25 536.8L688.91 536.6L689.58 536.8L689.80 524.1L690.02 536.8L690.69 536.7L691.57 536.8L691.96 536.8L692.46 527.7L692.96 530.4L693.34 536.9L694.01 536.8L694.23 535.3L694.45 536.8L695.11 536.9L695.78 536.8L696.00 533.2L696.22 536.8L696.88 537.0L697.55 536.8L697.77 530.1L697.99 533.7L698.65 536.9L699.54 536.6L699.92 536.8L700.42 533.1L700.92 536.8L701.31 537.0L701.70 536.8L702.20 534.5L702.70 536.7L703.08 536.8L703.75 536.8L703.97 525.5L704.19 536.8L704.85 536.9L705.74 536.9L706.40 536.8L706.62 528.9L706.84 536.8L707.51 536.6L708.39 536.7L709.28 536.9L709.66 536.8L710.16 528.1L710.66 536.8L711.05 536.7L711.94 536.9L712.82 537.0L713.21 536.8L713.71 531.6L714.21 536.6L714.59 537.6L715.26 536.8L715.48 531.9L715.70 536.8L716.36 536.9L717.03 536.8L717.25 531.8L717.47 535.2L717.91 536.8L718.13 532.5L718.35 536.8L718.80 536.8L719.02 533.3L719.24 536.8L719.90 536.6L720.57 536.8L720.79 531.6L721.01 534.2L721.67 536.6L722.56 536.7L723.45 536.7L724.11 536.8L724.33 533.5L724.55 536.8L725.22 537.0L725.88 536.8L726.10 532.9L726.32 536.8L726.99 536.8L727.37 536.8L727.87 528.6L728.37 536.8L728.76 536.7L729.64 536.7L730.53 536.9L731.41 537.0L732.08 536.8L732.30 527.6L732.52 529.9L733.19 536.6L733.85 536.8L734.07 534.5L734.29 536.8L734.96 537.0L735.62 536.8L735.84 530.0L736.06 536.8L736.73 537.0L737.39 536.8L737.61 534.5L737.83 536.8L738.50 536.8L738.88 536.8L739.38 533.3L739.88 536.8L740.27 536.6L741.15 536.9L741.82 536.8L742.04 528.3L742.26 536.8L742.92 537.0L743.81 536.7L744.70 537.6L745.58 536.7L746.25 536.8L746.47 534.8L746.69 536.8L747.35 537.0L748.24 536.7L748.90 536.8L749.12 531.3L749.34 536.8L749.79 536.8L750.01 527.7L750.23 536.8L750.89 536.6L751.78 537.6L752.44 536.8L752.66 532.7L752.88 536.8L753.55 536.9L754.44 536.6L755.32 536.7L755.99 536.8L756.21 533.6L756.43 536.8L757.09 536.9L757.76 536.8L757.98 529.0L758.20 536.8L758.86 536.6L759.53 536.8L759.75 528.2L759.97 532.8L760.41 536.8L760.63 535.3L760.85 536.8L761.52 537.6L762.40 537.0L763.07 536.8L763.29 528.5L763.51 536.8L764.17 536.9L764.84 536.8L765.06 528.6L765.28 536.8L765.95 537.6L766.61 536.8L766.83 531.6L767.05 536.1L767.72 536.7L768.60 537.6L769.27 536.8L769.49 532.4L769.71 536.8L770.37 536.9L771.04 536.8L771.26 524.7L771.48 536.8L772.14 536.8L773.03 536.6L773.91 536.8L774.58 536.8L774.80 531.8L775.02 536.8L775.69 536.8L776.57 536.8L777.46 536.6L778.34 537.0L779.01 536.8L779.23 530.5L779.45 536.8L780.11 536.9L780.78 536.8L781.00 533.1L781.22 536.8L781.88 536.6L782.55 536.8L782.77 532.2L782.99 536.8L783.65 537.6L784.32 536.8L784.54 528.7L784.76 536.8L785.42 537.0L786.09 536.8L786.31 534.2L786.53 536.8L787.20 537.0L788.08 536.8L788.97 536.7L789.85 537.6L790.52 536.8L790.74 532.8L790.96 536.8L791.62 536.7L792.01 536.8L792.51 531.8L793.01 536.8L793.17 536.8L793.39 530.6L793.61 536.8L794.28 536.9L794.94 536.8L795.16 529.0L795.38 536.8L796.05 536.8L796.94 536.8L797.60 536.8L797.82 530.5L798.04 536.8L798.71 537.0L799.59 536.8L800.48 536.9L801.36 536.7L802.25 536.6L802.91 536.8L803.13 534.3L803.35 536.8L804.02 536.7L804.90 536.7L805.57 536.8L805.79 532.4L806.01 536.8L806.67 536.7L807.56 536.9L808.45 537.0L809.33 536.9L810.22 536.6L810.88 536.8L811.10 530.8L811.32 536.8L811.99 536.9L812.65 536.8L812.87 530.5L813.09 536.8L813.76 537.0L814.64 536.8L815.53 537.0L816.41 536.6L817.30 536.6L817.69 536.8L818.19 535.2L818.69 536.8L819.07 536.6L819.96 537.0L820.84 536.8L821.51 536.8L821.73 530.7L821.95 534.5L822.61 537.0L823.50 536.8L824.38 536.7L825.27 536.9L826.15 536.8L826.54 536.8L827.04 529.1L827.54 536.8L827.92 536.9L828.81 536.7L829.48 536.8L829.70 534.9L829.92 536.8L830.58 536.8L831.25 536.8L831.47 526.8L831.69 528.9L832.35 536.7L833.24 536.8L833.90 536.8L834.12 533.0L834.34 536.8L835.01 537.0L835.39 536.8L835.89 530.7L836.39 536.8L836.78 536.8L837.66 536.8L838.55 537.0L839.44 536.6L840.32 536.8L840.99 536.8L841.21 534.4L841.43 536.8L842.09 536.8L842.98 536.6L843.64 536.8L843.86 532.6L844.08 536.8L844.75 536.9L845.63 536.9L846.30 536.8L846.52 530.0L846.74 534.5L847.40 536.9L848.29 536.8L849.17 536.7L849.56 536.8L850.06 531.7L850.56 536.8L850.95 536.7L851.83 537.0L852.50 536.8L852.72 534.0L852.94 536.8L853.60 537.6L854.49 536.6L855.15 536.8L855.37 533.6L855.59 536.8L856.26 536.8L856.92 536.8L857.14 528.5L857.36 536.8L858.03 536.8L858.69 536.8L858.91 534.3L859.13 536.8L859.80 537.6L860.47 536.8L860.69 525.2L860.91 529.1L861.57 536.6L862.46 536.9L863.34 537.0L864.01 536.8L864.23 528.8L864.45 536.8L865.11 536.8L865.78 536.8L866.00 530.9L866.22 534.5L866.66 536.8L866.88 527.2L867.10 536.8L867.77 536.6L868.43 536.8L868.65 534.2L868.87 536.8L869.54 536.7L870.20 536.8L870.42 524.9L870.64 536.8L871.31 536.9L871.70 536.8L872.20 531.3L872.70 536.8L873.08 536.7L873.75 536.8L873.97 530.5L874.19 536.8L874.63 536.8L874.85 524.0L875.07 536.8L875.74 536.6L876.40 536.8L876.62 527.1L876.84 536.8L877.01 536.8L877.51 533.3L878.01 536.8L878.39 536.6L879.28 536.7L880.16 536.7L880.83 536.8L881.05 533.2L881.27 536.8L881.94 536.8L882.32 536.8L882.82 530.6L883.32 536.8L883.71 536.8L884.09 536.8L884.59 528.2L885.09 536.8L885.48 536.9L886.14 536.8L886.36 529.1L886.58 536.8L887.25 536.6L888.13 536.6L888.52 536.8L889.02 529.8L889.52 536.8L889.90 537.0L890.79 536.7L891.45 536.8L891.67 528.8L891.89 536.8L892.56 536.7L893.45 536.8L894.33 536.7L894.72 536.8L895.22 532.4L895.72 536.8L895.88 536.8L896.10 525.4L896.32 536.8L896.99 536.9L897.87 536.6L898.76 537.0L899.42 536.8L899.64 534.4L899.86 536.8L900.53 536.8L901.41 537.0L902.30 536.8L902.97 536.8L903.19 523.9L903.41 527.3L904.07 536.6L904.96 536.7L905.84 536.6L906.73 536.9L907.61 536.9L908.50 536.8L909.38 536.8L909.77 536.8L910.27 532.6L910.77 536.8L911.15 536.8L911.54 536.8L912.04 532.7L912.54 536.8L912.92 536.9L913.81 536.9L914.70 536.6L915.58 536.9L916.47 536.9L917.13 536.8L917.35 533.6L917.57 536.8L918.24 537.0L918.90 536.8L919.12 525.9L919.34 536.8L920.01 536.8L920.67 536.8L920.89 534.3L921.11 536.8L921.78 536.6L922.66 536.6L923.55 536.9L924.22 536.8L924.44 532.4L924.66 536.8L925.32 537.6L926.21 536.8L926.87 536.8L927.09 530.3L927.31 536.8L927.98 536.9L928.86 536.8L929.75 536.9L930.63 537.6L931.30 536.8L931.52 530.9L931.74 533.5L932.40 536.6L933.29 536.6L934.17 536.9L935.06 536.8L935.95 536.9L936.83 536.9L937.72 536.9L938.38 536.8L938.60 528.5L938.82 536.8L939.49 536.9L940.37 536.9L941.26 537.6L942.14 536.9L943.03 537.0L943.69 536.8L943.91 528.9L944.13 536.8L944.80 537.0L945.69 536.9L946.07 536.8L946.57 532.7L947.07 536.8L947.24 536.8L947.46 522.5L947.68 536.8L948.34 537.0L949.01 536.8L949.23 532.4L949.45 536.8L950.11 536.8L950.50 536.8L951.00 535.0L951.50 536.8L951.88 536.9L952.55 536.8L952.77 531.3L952.99 536.8L953.65 536.7L954.54 536.9L955.20 536.8L955.42 532.7L955.64 536.8L956.31 536.7L957.20 537.0L958.08 537.6L958.97 537.6L959.85 536.9L960.52 536.8L960.74 534.1L960.96 536.8L961.62 536.8L962.51 536.9L963.39 536.7L964.06 536.8L964.28 534.2L964.50 536.8L964.94 536.8L965.16 527.1L965.38 536.8L966.05 536.6L966.94 536.7L967.60 536.8L967.82 530.4L968.04 536.8L968.71 537.0L969.59 537.6L970.26 536.8L970.48 534.7L970.70 536.8L971.36 536.6L972.03 536.8L972.25 534.4L972.47 536.8L973.13 537.0L973.80 536.8L974.02 528.4L974.24 536.8L974.90 536.8L975.79 536.6L976.67 537.0L977.56 536.6L978.45 536.7L979.11 536.8L979.33 529.8L979.55 536.8L980.22 536.9L980.88 536.8L981.10 533.7L981.32 536.8L981.99 536.6L982.87 536.6L983.76 536.7L984.42 536.8L984.64 534.5L984.86 536.8L985.53 536.9L986.41 536.7L987.30 536.8L987.97 536.8L988.19 533.0L988.41 536.8L989.07 536.9L989.96 537.6L990.34 536.8L990.84 531.6L991.34 536.8L991.73 536.9L992.39 536.8L992.61 529.1L992.83 536.8L993.50 536.6L993.88 536.8L994.38 524.2L994.88 536.8L995.27 536.7L996.15 536.7L997.04 536.8L997.92 537.0L998.81 536.7L999.48 536.8L999.70 529.6L999.92 536.8L1000.58 536.6L1000.97 536.8L1001.47 533.9L1001.97 536.8L1002.13 536.8L1002.35 531.1L1002.57 536.8L1003.02 536.8L1003.24 531.0L1003.46 536.8L1003.90 536.8L1004.12 533.0L1004.34 536.8L1005.01 536.6L1005.89 536.7L1006.56 536.8L1006.78 528.5L1007.00 530.8L1007.66 536.9L1008.55 537.0L1009.22 536.8L1009.44 531.7L1009.66 536.7L1010.32 536.7L1010.99 536.8L1011.21 524.5L1011.43 528.7L1012.09 537.0L1012.98 536.7L1013.64 536.8L1013.86 529.3L1014.08 533.7L1014.53 536.8L1014.75 534.3L1014.97 536.8L1015.63 536.6L1016.52 536.7L1017.40 536.9L1017.79 536.8L1018.29 533.9L1018.79 536.8L1019.17 536.6L1019.84 536.8L1020.06 531.3L1020.28 536.8L1020.73 536.8L1020.95 532.7L1021.17 535.2L1021.83 536.9L1022.50 536.8L1022.72 528.2L1022.94 536.8L1023.60 536.6L1024.49 536.7L1025.37 536.9L1026.04 536.8L1026.26 532.1L1026.48 536.8L1027.14 536.8L1027.81 536.8L1028.03 527.8L1028.25 536.8L1028.91 536.7L1029.30 536.8L1029.80 532.5L1030.30 536.8L1030.69 536.6L1031.35 536.8L1031.57 528.5L1031.79 536.8L1032.46 536.7L1033.34 536.9L1034.01 536.8L1034.23 533.5L1034.45 536.6L1035.11 536.8L1035.78 536.8L1036.00 531.7L1036.22 536.8L1036.88 536.9L1037.77 536.7L1038.65 536.6L1039.32 536.8L1039.54 533.2L1039.76 536.8L1039.92 536.8L1040.42 518.3L1040.92 536.8L1041.09 536.8L1041.31 533.0L1041.53 536.8L1042.20 537.0L1043.08 537.6L1043.97 536.6L1044.85 537.0L1045.74 536.6L1046.40 536.8L1046.62 533.7L1046.84 536.8L1047.29 536.8L1047.51 531.3L1047.73 536.2L1048.39 536.6L1048.78 536.8L1049.28 531.9L1049.78 534.6L1049.94 536.8L1050.16 528.2L1050.38 532.6L1051.05 536.6L1051.72 536.8L1051.94 534.7L1052.16 536.8L1052.82 537.0L1053.71 536.6L1054.59 536.6L1055.48 537.6L1056.14 536.8L1056.36 530.2L1056.58 536.8L1057.25 536.6L1058.13 536.6L1059.02 536.9L1059.90 536.7L1060.57 536.8L1060.79 535.1L1061.01 536.8L1061.67 536.6L1062.34 536.8L1062.56 525.1L1062.78 528.8L1063.45 537.0L1064.11 536.8L1064.33 523.8L1064.55 526.5L1065.22 536.9L1065.60 536.8L1066.10 533.7L1066.60 536.8L1066.99 536.8L1067.65 536.8L1067.87 532.0L1068.09 536.8L1068.76 536.9L1069.14 536.8L1069.64 527.3L1070.14 531.5L1070.53 536.8L1071.41 536.7L1072.30 536.8L1073.19 536.9L1074.07 536.6L1074.74 536.8L1074.96 530.2L1075.18 536.8L1075.62 536.8L1075.84 533.1L1076.06 536.8L1076.73 536.7L1077.39 536.8L1077.61 534.1L1077.83 536.8L1078.50 536.9L1079.38 536.8L1080.05 536.8L1080.27 528.2L1080.49 531.0L1081.15 536.7L1082.04 536.9L1082.42 536.8L1082.92 530.7L1083.42 533.5L1083.81 537.0L1084.48 536.8L1084.70 529.5L1084.92 536.8L1085.58 536.9L1086.25 536.8L1086.47 523.5L1086.69 536.8L1087.35 536.8L1088.02 536.8L1088.24 533.5L1088.46 536.8L1089.12 536.9L1090.01 537.0L1090.89 537.0L1091.56 536.8L1091.78 530.2L1092.00 536.8L1092.66 536.7L1093.33 536.8L1093.55 532.8L1093.77 536.8L1094.44 536.7L1095.32 537.6L1095.99 536.8L1096.21 532.8L1096.43 536.8L1097.09 536.6L1097.98 537.0L1098.36 536.8L1098.86 533.1L1099.36 536.8L1099.75 537.0L1100.41 536.8L1100.63 529.4L1100.85 534.1L1101.30 536.8L1101.52 531.5L1101.74 536.8L1102.40 536.8L1103.29 537.0L1103.95 536.8L1104.17 532.2L1104.39 536.8L1105.06 536.6L1105.73 536.8L1105.95 531.8L1106.17 536.8L1106.83 536.9L1107.50 536.8L1107.72 532.1L1107.94 536.8L1108.60 536.9L1109.27 536.8L1109.49 530.4L1109.71 533.9L1110.37 537.0L1111.26 537.6L1111.64 536.8L1112.14 528.9L1112.64 531.3L1113.03 536.9L1113.91 536.7L1114.58 536.8L1114.80 524.0L1115.02 536.8L1115.47 536.8L1115.69 529.9L1115.91 532.8L1116.35 536.8L1116.57 535.0L1116.79 536.8L1117.46 536.8L1118.34 536.8L1119.01 536.8L1119.23 533.0L1119.45 535.0L1120.11 536.7L1120.78 536.8L1121.00 529.1L1121.22 536.8L1121.88 536.6L1122.77 536.8L1123.43 536.8L1123.65 529.8L1123.87 533.9L1124.54 536.7L1124.92 536.8L1125.42 535.0L1125.92 536.8L1126.31 536.8L1126.98 536.8L1127.20 530.9L1127.42 536.8L1128.08 536.8L1128.75 536.8L1128.97 528.9L1129.19 536.8L1129.35 536.8L1129.85 530.0L1130.35 534.6L1130.74 536.7L1131.62 536.8L1132.51 536.8L1133.39 536.9L1134.28 536.8L1135.16 536.8L1136.05 536.7L1136.44 536.8L1136.94 531.4L1137.44 535.3L1137.82 536.9L1138.71 536.8L1139.59 536.8L1140.26 536.8L1140.48 533.8L1140.70 536.8L1141.36 537.0L1142.25 536.9L1142.91 536.8L1143.13 535.1L1143.35 536.8L1144.02 537.0L1144.68 536.8L1144.90 530.3L1145.12 536.8L1145.79 536.8L1146.45 536.8L1146.67 530.4L1146.89 536.8L1147.06 536.8L1147.56 528.8L1148.06 536.8L1148.45 536.8L1148.83 536.8L1149.33 530.8L1149.83 534.3L1150.22 536.9L1151.10 536.7L1151.77 536.8L1151.99 533.3L1152.21 536.8L1152.87 536.9L1153.54 536.8L1153.76 529.8L1153.98 536.8L1154.64 537.0L1155.31 536.8L1155.53 535.1L1155.75 536.8L1156.41 536.6L1157.08 536.8L1157.30 530.4L1157.52 536.8L1158.19 536.9L1158.85 536.8L1159.07 530.9L1159.29 536.8L1159.96 536.7L1160.62 536.8L1160.84 533.9L1161.06 536.3L1161.73 536.7L1162.61 537.0L1163.50 536.7L1164.16 536.8L1164.38 534.5L1164.60 536.8L1165.27 536.8L1165.65 536.8L1166.15 533.2L1166.65 536.8L1167.04 536.7L1167.70 536.8L1167.92 533.4L1168.14 536.8L1168.81 536.8L1169.48 536.8L1169.70 530.0L1169.92 532.4L1170.58 536.8L1171.47 536.7L1172.13 536.8L1172.35 528.6L1172.57 536.8L1173.24 537.0L1173.90 536.8L1174.12 533.8L1174.34 536.8L1174.79 536.8L1175.01 531.9L1175.23 536.8L1175.89 536.8L1176.56 536.8L1176.78 529.9L1177.00 536.8L1177.66 537.0L1178.33 536.8L1178.55 534.7L1178.77 536.8L1179.44 536.7L1180.10 536.8L1180.32 531.4L1180.54 536.8L1181.21 536.7L1182.09 536.9L1182.76 536.8L1182.98 533.3L1183.20 536.8L1183.86 537.6L1184.25 536.8L1184.75 529.7L1185.25 536.8L1185.63 536.7L1186.02 536.8L1186.52 529.6L1187.02 536.8L1187.40 536.8L1188.07 536.8L1188.29 535.0L1188.51 536.8L1189.17 536.8L1189.84 536.8L1190.06 533.4L1190.28 536.8L1190.95 536.6L1191.61 536.8L1191.83 528.3L1192.05 536.8L1192.50 536.8L1192.72 530.3L1192.94 536.8L1193.38 536.8L1193.60 531.4L1193.82 535.7L1194.49 536.7L1195.15 536.8L1195.37 528.3L1195.59 536.8L1196.26 537.0L1197.14 536.7L1197.81 536.8L1198.03 530.5L1198.25 534.1L1198.91 536.8L1199.80 536.7L1200.69 536.6L1201.35 536.8L1201.57 535.0L1201.79 536.8L1202.46 536.9L1203.34 536.6L1204.23 536.9L1205.11 536.7L1206.00 536.8L1206.66 536.8L1206.88 529.2L1207.10 536.8L1207.77 537.0L1208.15 536.8L1208.65 529.8L1209.15 536.8L1209.54 536.9L1210.42 536.7L1211.31 537.6L1211.70 536.8L1212.20 531.3L1212.70 533.6L1213.08 536.6L1213.75 536.8L1213.97 528.7L1214.19 532.6L1214.85 536.6L1215.52 536.8L1215.74 528.1L1215.96 536.8L1216.40 536.8L1216.62 526.7L1216.84 529.5L1217.51 536.8L1218.39 536.9L1219.28 537.0L1220.16 536.9L1221.05 536.7L1221.72 536.8L1221.94 528.8L1222.16 536.8L1222.82 536.7L1223.21 536.8L1223.71 535.2L1224.21 536.8L1224.59 536.8L1225.48 536.6L1226.14 536.8L1226.36 531.4L1226.58 536.8L1227.25 536.9L1228.13 536.7L1229.02 536.6L1229.90 537.6L1230.79 537.0L1231.67 536.6L1232.34 536.8L1232.56 533.2L1232.78 536.8L1233.23 536.8L1233.45 520.0L1233.67 536.8L1234.33 537.0L1235.22 536.7L1236.10 536.8L1236.49 536.8L1236.99 533.7L1237.49 536.8L1237.87 536.7L1238.26 536.8L1238.76 529.7L1239.26 536.8L1239.64 536.9L1240.53 536.6L1241.19 536.8L1241.41 529.8L1241.63 536.8L1242.30 536.8L1243.19 536.9L1244.07 537.0L1244.96 536.7L1245.84 536.8L1246.73 536.8L1247.39 536.8L1247.61 526.7L1247.83 536.8L1248.00 536.8L1248.50 532.9L1249.00 536.8L1249.38 537.0L1250.05 536.8L1250.27 532.7L1250.49 536.8L1251.15 536.6L1252.04 536.7L1252.92 537.0L1253.59 536.8L1253.81 529.5L1254.03 534.2L1254.48 536.8L1254.70 531.1L1254.92 533.6L1255.58 536.6L1256.25 536.8L1256.47 535.0L1256.69 536.8L1257.35 537.6L1258.24 536.9L1258.90 536.8L1259.12 524.2L1259.34 536.8L1260.01 536.9L1260.89 536.6L1261.78 536.8L1262.16 536.8L1262.66 529.9L1263.16 536.8L1263.55 536.9L1264.22 536.8L1264.44 531.3L1264.66 535.5L1265.32 537.0L1266.21 536.8L1266.87 536.8L1267.09 533.9L1267.31 536.8L1267.98 536.6L1268.64 536.8L1268.86 529.8L1269.08 534.8L1269.75 536.6L1270.63 536.6L1271.52 536.8L1272.40 537.0L1273.07 536.8L1273.29 533.8L1273.51 536.8L1274.17 537.0L1274.84 536.8L1275.06 527.2L1275.28 536.8L1275.95 536.6L1276.83 536.9L1277.72 536.6L1278.60 536.7L1279.49 536.9L1280.15 536.8L1280.37 528.3L1280.59 536.8L1281.04 536.8L1281.26 524.0L1281.48 536.8L1282.14 537.0L1283.03 536.9L1283.91 536.6L1284.80 536.8L1285.69 536.8L1286.57 536.9L1286.96 536.8L1287.46 527.8L1287.96 536.8L1288.34 536.6L1289.01 536.8L1289.23 528.1L1289.45 536.8L1290.11 536.6L1290.78 536.8L1291.00 534.7L1291.22 536.8L1291.88 536.7L1292.55 536.8L1292.77 533.2L1292.99 536.8L1293.65 536.8L1294.54 537.0L1295.42 536.6L1296.31 536.9L1297.20 536.6L1297.86 536.8L1298.08 529.3L1298.30 536.8L1298.97 536.6L1299.85 536.7L1300.52 536.8L1300.74 532.8L1300.96 536.4L1301.62 536.9L1302.51 536.6L1302.89 536.8L1303.39 528.8L1303.89 536.8L1304.28 536.6L1304.94 536.8L1305.16 530.9L1305.38 536.8L1306.05 536.7L1306.44 536.8L1306.94 528.5L1307.44 536.8L1307.82 536.7L1308.71 537.6L1309.37 536.8L1309.59 534.4L1309.81 536.8L1310.48 536.8L1311.36 536.9L1312.03 536.8L1312.25 532.4L1312.47 534.9L1313.13 536.7L1313.80 536.8L1314.02 526.4L1314.24 536.8L1314.90 536.8L1315.57 536.8L1315.79 529.1L1316.01 536.8L1316.67 537.0L1317.56 536.8L1318.45 536.8L1319.11 536.8L1319.33 533.0L1319.55 536.8L1320.22 536.8L1320.88 536.8L1321.10 526.3L1321.32 536.8L1321.99 536.6L1322.65 536.8L1322.87 529.2L1323.09 532.9L1323.76 537.0L1324.42 536.8L1324.64 528.5L1324.86 536.8L1325.31 536.8L1325.53 524.0L1325.75 526.3L1326.41 537.0L1327.30 536.8L1328.19 536.6L1329.07 537.0L1329.96 536.7L1330.84 536.7L1331.51 536.8L1331.73 533.1L1331.95 536.0L1332.61 537.0L1333.28 536.8L1333.50 534.8L1333.72 536.8L1334.38 536.8L1335.27 536.7L1336.15 537.0L1336.82 536.8L1337.04 532.6L1337.26 536.8L1337.70 536.8L1337.92 534.4L1338.14 536.8L1338.59 536.8L1338.81 533.5L1339.03 536.8L1339.70 537.6L1340.36 536.8L1340.58 534.8L1340.80 536.8L1341.47 537.0L1341.85 536.8L1342.35 532.5L1342.85 536.8L1343.24 537.0L1344.12 536.6L1345.01 536.7L1345.89 537.0L1346.56 536.8L1346.78 534.5L1347.00 536.8L1347.66 536.9L1348.55 536.9L1348.94 536.8L1349.44 532.8L1349.94 535.6L1350.32 537.0L1351.21 536.6L1351.87 536.8L1352.09 534.5L1352.31 536.8L1352.98 536.8L1353.64 536.8L1353.86 534.7L1354.08 536.8L1354.75 537.0L1355.41 536.8L1355.63 534.5L1355.85 536.8L1356.52 536.7L1356.90 536.8L1357.40 533.6L1357.90 536.2L1358.29 536.8L1358.95 536.8L1359.17 531.2L1359.39 536.8L1360.06 536.7L1360.73 536.8L1360.95 534.6L1361.17 536.8L1361.83 536.7L1362.72 537.0L1363.60 537.6L1363.99 536.8L1364.49 530.5L1364.99 532.9L1365.15 536.8L1365.37 530.1L1365.59 536.8L1366.26 536.8L1367.14 536.6L1368.61 536.8M94.80 536.8L95.69 537.0L96.57 536.6L97.46 536.8L98.12 536.8L98.34 531.2L98.56 536.8L99.23 536.8L100.11 536.6L101.00 537.0L101.66 536.8L101.88 534.2L102.10 536.8L102.77 536.7L103.65 537.0L104.54 536.8L105.42 536.8L106.31 536.6L106.98 536.8L107.20 525.0L107.42 536.8L108.08 537.0L108.75 536.8L108.97 525.5L109.19 527.9L109.85 537.0L110.24 536.8L110.74 524.3L111.24 536.8L111.40 536.8L111.62 525.0L111.84 536.8L112.51 537.0L113.17 536.8L113.39 534.0L113.61 536.8L114.28 536.7L114.94 536.8L115.16 530.8L115.38 536.8L116.05 536.9L116.44 536.8L116.94 529.0L117.44 532.9L117.82 536.6L118.71 537.0L119.59 537.0L120.48 537.6L120.86 536.8L121.36 531.5L121.86 536.8L122.03 536.8L122.25 523.3L122.47 528.1L123.13 536.6L123.80 536.8L124.02 532.4L124.24 536.8L124.90 537.0L125.57 536.8L125.79 529.0L126.01 536.8L126.67 537.0L127.56 536.9L128.23 536.8L128.45 533.3L128.67 536.8L129.33 536.7L130.22 536.8L130.60 536.8L131.10 531.3L131.60 533.7L131.99 537.6L132.87 536.6L133.76 537.0L134.42 536.8L134.64 530.5L134.86 536.8L135.53 536.7L136.41 536.6L137.30 536.9L138.19 536.8L138.85 536.8L139.07 535.0L139.29 536.8L139.96 537.6L140.84 536.7L141.73 536.8L142.11 536.8L142.61 529.1L143.11 536.8L143.50 536.8L144.38 536.6L145.05 536.8L145.27 529.3L145.49 536.8L146.15 536.8L146.82 536.8L147.04 531.1L147.26 536.1"/>
<path d="M86.00 350.02L156.12 350.02L147.93 363.12L94.20 363.12Z" fill="#e69f00"/>
<path d="M192.25 350.02L1377.10 350.02L1368.90 363.12L200.45 363.12Z" fill="#e69f00"/>
<path d="M244.1 363.3L245.0 361.4L245.9 363.3ZM401.1 363.3L402.0 361.4L402.9 363.3ZM495.1 363.3L496.0 361.4L496.9 363.3ZM658.1 363.3L659.0 361.4L659.9 363.3ZM744.1 363.3L745.0 361.4L745.9 363.3ZM910.1 363.3L911.0 361.4L911.9 363.3ZM1006.1 363.3L1007.0 361.4L1007.9 363.3ZM1095.1 363.3L1096.0 361.4L1096.9 363.3ZM1182.1 363.3L1183.0 361.4L1183.9 363.3ZM1267.1 363.3L1268.0 361.4L1268.9 363.3ZM1355.4 363.3L1356.3 361.4L1357.2 363.3ZM1363 351.4h1.2v1.6h-1.2Z" fill="#fff"/>
<path d="M91.35 514.60a5.05 5.05 0 1 0 10.1 0a5.05 5.05 0 1 0 -10.1 0M100.45 509.50a5.05 5.05 0 1 0 10.1 0a5.05 5.05 0 1 0 -10.1 0M197.60 512.80a5.05 5.05 0 1 0 10.1 0a5.05 5.05 0 1 0 -10.1 0M206.70 513.60a5.05 5.05 0 1 0 10.1 0a5.05 5.05 0 1 0 -10.1 0M250.72 516.60a5.05 5.05 0 1 0 10.1 0a5.05 5.05 0 1 0 -10.1 0M259.82 513.60a5.05 5.05 0 1 0 10.1 0a5.05 5.05 0 1 0 -10.1 0M303.85 518.60a5.05 5.05 0 1 0 10.1 0a5.05 5.05 0 1 0 -10.1 0M312.95 512.80a5.05 5.05 0 1 0 10.1 0a5.05 5.05 0 1 0 -10.1 0M356.97 477.00a5.05 5.05 0 1 0 10.1 0a5.05 5.05 0 1 0 -10.1 0M366.07 512.80a5.05 5.05 0 1 0 10.1 0a5.05 5.05 0 1 0 -10.1 0M410.10 518.60a5.05 5.05 0 1 0 10.1 0a5.05 5.05 0 1 0 -10.1 0M419.20 512.00a5.05 5.05 0 1 0 10.1 0a5.05 5.05 0 1 0 -10.1 0M463.22 516.60a5.05 5.05 0 1 0 10.1 0a5.05 5.05 0 1 0 -10.1 0M472.32 517.00a5.05 5.05 0 1 0 10.1 0a5.05 5.05 0 1 0 -10.1 0M516.35 510.00a5.05 5.05 0 1 0 10.1 0a5.05 5.05 0 1 0 -10.1 0M525.45 511.60a5.05 5.05 0 1 0 10.1 0a5.05 5.05 0 1 0 -10.1 0M569.48 512.80a5.05 5.05 0 1 0 10.1 0a5.05 5.05 0 1 0 -10.1 0M578.58 500.00a5.05 5.05 0 1 0 10.1 0a5.05 5.05 0 1 0 -10.1 0M622.60 508.60a5.05 5.05 0 1 0 10.1 0a5.05 5.05 0 1 0 -10.1 0M631.70 510.00a5.05 5.05 0 1 0 10.1 0a5.05 5.05 0 1 0 -10.1 0M675.73 504.00a5.05 5.05 0 1 0 10.1 0a5.05 5.05 0 1 0 -10.1 0M684.83 513.60a5.05 5.05 0 1 0 10.1 0a5.05 5.05 0 1 0 -10.1 0M728.85 514.00a5.05 5.05 0 1 0 10.1 0a5.05 5.05 0 1 0 -10.1 0M737.95 510.90a5.05 5.05 0 1 0 10.1 0a5.05 5.05 0 1 0 -10.1 0M781.98 516.60a5.05 5.05 0 1 0 10.1 0a5.05 5.05 0 1 0 -10.1 0M791.08 492.00a5.05 5.05 0 1 0 10.1 0a5.05 5.05 0 1 0 -10.1 0M835.10 517.00a5.05 5.05 0 1 0 10.1 0a5.05 5.05 0 1 0 -10.1 0M844.20 512.50a5.05 5.05 0 1 0 10.1 0a5.05 5.05 0 1 0 -10.1 0M888.23 507.00a5.05 5.05 0 1 0 10.1 0a5.05 5.05 0 1 0 -10.1 0M897.33 511.60a5.05 5.05 0 1 0 10.1 0a5.05 5.05 0 1 0 -10.1 0M941.35 507.80a5.05 5.05 0 1 0 10.1 0a5.05 5.05 0 1 0 -10.1 0M950.45 511.80a5.05 5.05 0 1 0 10.1 0a5.05 5.05 0 1 0 -10.1 0M994.48 490.00a5.05 5.05 0 1 0 10.1 0a5.05 5.05 0 1 0 -10.1 0M1003.58 505.80a5.05 5.05 0 1 0 10.1 0a5.05 5.05 0 1 0 -10.1 0M1047.60 515.80a5.05 5.05 0 1 0 10.1 0a5.05 5.05 0 1 0 -10.1 0M1056.70 511.60a5.05 5.05 0 1 0 10.1 0a5.05 5.05 0 1 0 -10.1 0M1100.73 517.00a5.05 5.05 0 1 0 10.1 0a5.05 5.05 0 1 0 -10.1 0M1109.83 507.80a5.05 5.05 0 1 0 10.1 0a5.05 5.05 0 1 0 -10.1 0M1153.85 504.80a5.05 5.05 0 1 0 10.1 0a5.05 5.05 0 1 0 -10.1 0M1162.95 509.80a5.05 5.05 0 1 0 10.1 0a5.05 5.05 0 1 0 -10.1 0M1206.98 304.60a5.05 5.05 0 1 0 10.1 0a5.05 5.05 0 1 0 -10.1 0M1216.08 512.80a5.05 5.05 0 1 0 10.1 0a5.05 5.05 0 1 0 -10.1 0M1260.10 510.60a5.05 5.05 0 1 0 10.1 0a5.05 5.05 0 1 0 -10.1 0M1269.20 511.60a5.05 5.05 0 1 0 10.1 0a5.05 5.05 0 1 0 -10.1 0M1313.23 511.60a5.05 5.05 0 1 0 10.1 0a5.05 5.05 0 1 0 -10.1 0M1322.33 504.50a5.05 5.05 0 1 0 10.1 0a5.05 5.05 0 1 0 -10.1 0" fill="none" stroke="#0072b2" stroke-width="1.3"/>
<path d="M89.95 514.60h1.0M101.85 514.60h1.0M96.40 508.15v1.0M96.40 520.05v1.0M99.05 509.50h1.0M110.95 509.50h1.0M105.50 503.05v1.0M105.50 514.95v1.0M196.20 512.80h1.0M208.10 512.80h1.0M202.65 506.35v1.0M202.65 518.25v1.0M205.30 513.60h1.0M217.20 513.60h1.0M211.75 507.15v1.0M211.75 519.05v1.0M249.32 516.60h1.0M261.22 516.60h1.0M255.78 510.15v1.0M255.78 522.05v1.0M258.43 513.60h1.0M270.32 513.60h1.0M264.88 507.15v1.0M264.88 519.05v1.0M302.45 518.60h1.0M314.35 518.60h1.0M308.90 512.15v1.0M308.90 524.05v1.0M311.55 512.80h1.0M323.45 512.80h1.0M318.00 506.35v1.0M318.00 518.25v1.0M355.57 477.00h1.0M367.47 477.00h1.0M362.02 470.55v1.0M362.02 482.45v1.0M364.68 512.80h1.0M376.57 512.80h1.0M371.12 506.35v1.0M371.12 518.25v1.0M408.70 518.60h1.0M420.60 518.60h1.0M415.15 512.15v1.0M415.15 524.05v1.0M417.80 512.00h1.0M429.70 512.00h1.0M424.25 505.55v1.0M424.25 517.45v1.0M461.82 516.60h1.0M473.72 516.60h1.0M468.27 510.15v1.0M468.27 522.05v1.0M470.93 517.00h1.0M482.82 517.00h1.0M477.38 510.55v1.0M477.38 522.45v1.0M514.95 510.00h1.0M526.85 510.00h1.0M521.40 503.55v1.0M521.40 515.45v1.0M524.05 511.60h1.0M535.95 511.60h1.0M530.50 505.15v1.0M530.50 517.05v1.0M568.08 512.80h1.0M579.97 512.80h1.0M574.52 506.35v1.0M574.52 518.25v1.0M577.18 500.00h1.0M589.07 500.00h1.0M583.62 493.55v1.0M583.62 505.45v1.0M621.20 508.60h1.0M633.10 508.60h1.0M627.65 502.15v1.0M627.65 514.05v1.0M630.30 510.00h1.0M642.20 510.00h1.0M636.75 503.55v1.0M636.75 515.45v1.0M674.33 504.00h1.0M686.22 504.00h1.0M680.77 497.55v1.0M680.77 509.45v1.0M683.43 513.60h1.0M695.32 513.60h1.0M689.88 507.15v1.0M689.88 519.05v1.0M727.45 514.00h1.0M739.35 514.00h1.0M733.90 507.55v1.0M733.90 519.45v1.0M736.55 510.90h1.0M748.45 510.90h1.0M743.00 504.45v1.0M743.00 516.35v1.0M780.58 516.60h1.0M792.47 516.60h1.0M787.02 510.15v1.0M787.02 522.05v1.0M789.68 492.00h1.0M801.57 492.00h1.0M796.12 485.55v1.0M796.12 497.45v1.0M833.70 517.00h1.0M845.60 517.00h1.0M840.15 510.55v1.0M840.15 522.45v1.0M842.80 512.50h1.0M854.70 512.50h1.0M849.25 506.05v1.0M849.25 517.95v1.0M886.83 507.00h1.0M898.72 507.00h1.0M893.27 500.55v1.0M893.27 512.45v1.0M895.93 511.60h1.0M907.82 511.60h1.0M902.38 505.15v1.0M902.38 517.05v1.0M939.95 507.80h1.0M951.85 507.80h1.0M946.40 501.35v1.0M946.40 513.25v1.0M949.05 511.80h1.0M960.95 511.80h1.0M955.50 505.35v1.0M955.50 517.25v1.0M993.08 490.00h1.0M1004.97 490.00h1.0M999.52 483.55v1.0M999.52 495.45v1.0M1002.18 505.80h1.0M1014.07 505.80h1.0M1008.62 499.35v1.0M1008.62 511.25v1.0M1046.20 515.80h1.0M1058.10 515.80h1.0M1052.65 509.35v1.0M1052.65 521.25v1.0M1055.30 511.60h1.0M1067.20 511.60h1.0M1061.75 505.15v1.0M1061.75 517.05v1.0M1099.33 517.00h1.0M1111.23 517.00h1.0M1105.78 510.55v1.0M1105.78 522.45v1.0M1108.42 507.80h1.0M1120.33 507.80h1.0M1114.88 501.35v1.0M1114.88 513.25v1.0M1152.45 504.80h1.0M1164.35 504.80h1.0M1158.90 498.35v1.0M1158.90 510.25v1.0M1161.55 509.80h1.0M1173.45 509.80h1.0M1168.00 503.35v1.0M1168.00 515.25v1.0M1205.58 304.60h1.0M1217.48 304.60h1.0M1212.03 298.15v1.0M1212.03 310.05v1.0M1214.67 512.80h1.0M1226.58 512.80h1.0M1221.12 506.35v1.0M1221.12 518.25v1.0M1258.70 510.60h1.0M1270.60 510.60h1.0M1265.15 504.15v1.0M1265.15 516.05v1.0M1267.80 511.60h1.0M1279.70 511.60h1.0M1274.25 505.15v1.0M1274.25 517.05v1.0M1311.83 511.60h1.0M1323.73 511.60h1.0M1318.28 505.15v1.0M1318.28 517.05v1.0M1320.92 504.50h1.0M1332.83 504.50h1.0M1327.38 498.05v1.0M1327.38 509.95v1.0" fill="none" stroke="#0072b2" stroke-width="1"/>
<path d="M91.40 536.70a5.0 5.0 0 1 0 10.0 0a5.0 5.0 0 1 0 -10.0 0M100.50 535.90a5.0 5.0 0 1 0 10.0 0a5.0 5.0 0 1 0 -10.0 0M197.65 537.10a5.0 5.0 0 1 0 10.0 0a5.0 5.0 0 1 0 -10.0 0M206.75 536.60a5.0 5.0 0 1 0 10.0 0a5.0 5.0 0 1 0 -10.0 0M250.78 537.10a5.0 5.0 0 1 0 10.0 0a5.0 5.0 0 1 0 -10.0 0M259.88 536.60a5.0 5.0 0 1 0 10.0 0a5.0 5.0 0 1 0 -10.0 0M303.90 537.10a5.0 5.0 0 1 0 10.0 0a5.0 5.0 0 1 0 -10.0 0M313.00 536.60a5.0 5.0 0 1 0 10.0 0a5.0 5.0 0 1 0 -10.0 0M357.02 537.10a5.0 5.0 0 1 0 10.0 0a5.0 5.0 0 1 0 -10.0 0M366.12 536.60a5.0 5.0 0 1 0 10.0 0a5.0 5.0 0 1 0 -10.0 0M410.15 537.10a5.0 5.0 0 1 0 10.0 0a5.0 5.0 0 1 0 -10.0 0M419.25 536.60a5.0 5.0 0 1 0 10.0 0a5.0 5.0 0 1 0 -10.0 0M463.27 537.10a5.0 5.0 0 1 0 10.0 0a5.0 5.0 0 1 0 -10.0 0M472.38 536.60a5.0 5.0 0 1 0 10.0 0a5.0 5.0 0 1 0 -10.0 0M516.40 537.10a5.0 5.0 0 1 0 10.0 0a5.0 5.0 0 1 0 -10.0 0M525.50 536.60a5.0 5.0 0 1 0 10.0 0a5.0 5.0 0 1 0 -10.0 0M569.52 534.20a5.0 5.0 0 1 0 10.0 0a5.0 5.0 0 1 0 -10.0 0M578.62 533.40a5.0 5.0 0 1 0 10.0 0a5.0 5.0 0 1 0 -10.0 0M622.65 537.40a5.0 5.0 0 1 0 10.0 0a5.0 5.0 0 1 0 -10.0 0M631.75 536.30a5.0 5.0 0 1 0 10.0 0a5.0 5.0 0 1 0 -10.0 0M675.77 537.10a5.0 5.0 0 1 0 10.0 0a5.0 5.0 0 1 0 -10.0 0M684.88 536.60a5.0 5.0 0 1 0 10.0 0a5.0 5.0 0 1 0 -10.0 0M728.90 537.10a5.0 5.0 0 1 0 10.0 0a5.0 5.0 0 1 0 -10.0 0M738.00 536.60a5.0 5.0 0 1 0 10.0 0a5.0 5.0 0 1 0 -10.0 0M782.02 537.10a5.0 5.0 0 1 0 10.0 0a5.0 5.0 0 1 0 -10.0 0M791.12 536.60a5.0 5.0 0 1 0 10.0 0a5.0 5.0 0 1 0 -10.0 0M835.15 537.10a5.0 5.0 0 1 0 10.0 0a5.0 5.0 0 1 0 -10.0 0M844.25 536.60a5.0 5.0 0 1 0 10.0 0a5.0 5.0 0 1 0 -10.0 0M888.27 537.10a5.0 5.0 0 1 0 10.0 0a5.0 5.0 0 1 0 -10.0 0M897.38 536.60a5.0 5.0 0 1 0 10.0 0a5.0 5.0 0 1 0 -10.0 0M941.40 537.10a5.0 5.0 0 1 0 10.0 0a5.0 5.0 0 1 0 -10.0 0M950.50 536.60a5.0 5.0 0 1 0 10.0 0a5.0 5.0 0 1 0 -10.0 0M994.52 536.80a5.0 5.0 0 1 0 10.0 0a5.0 5.0 0 1 0 -10.0 0M1003.62 535.50a5.0 5.0 0 1 0 10.0 0a5.0 5.0 0 1 0 -10.0 0M1047.65 537.10a5.0 5.0 0 1 0 10.0 0a5.0 5.0 0 1 0 -10.0 0M1056.75 536.60a5.0 5.0 0 1 0 10.0 0a5.0 5.0 0 1 0 -10.0 0M1100.78 537.10a5.0 5.0 0 1 0 10.0 0a5.0 5.0 0 1 0 -10.0 0M1109.88 536.60a5.0 5.0 0 1 0 10.0 0a5.0 5.0 0 1 0 -10.0 0M1153.90 537.10a5.0 5.0 0 1 0 10.0 0a5.0 5.0 0 1 0 -10.0 0M1163.00 536.60a5.0 5.0 0 1 0 10.0 0a5.0 5.0 0 1 0 -10.0 0M1207.03 479.60a5.0 5.0 0 1 0 10.0 0a5.0 5.0 0 1 0 -10.0 0M1216.12 536.30a5.0 5.0 0 1 0 10.0 0a5.0 5.0 0 1 0 -10.0 0M1260.15 537.10a5.0 5.0 0 1 0 10.0 0a5.0 5.0 0 1 0 -10.0 0M1269.25 536.60a5.0 5.0 0 1 0 10.0 0a5.0 5.0 0 1 0 -10.0 0M1313.28 537.10a5.0 5.0 0 1 0 10.0 0a5.0 5.0 0 1 0 -10.0 0M1322.38 536.60a5.0 5.0 0 1 0 10.0 0a5.0 5.0 0 1 0 -10.0 0" fill="#e51e10" stroke="#e51e10" stroke-width="1.1"/>
<path d="M90.00 536.70h1.0M101.80 536.70h1.0M96.40 530.30v1.0M96.40 542.10v1.0M99.10 535.90h1.0M110.90 535.90h1.0M105.50 529.50v1.0M105.50 541.30v1.0M196.25 537.10h1.0M208.05 537.10h1.0M202.65 530.70v1.0M202.65 542.50v1.0M205.35 536.60h1.0M217.15 536.60h1.0M211.75 530.20v1.0M211.75 542.00v1.0M249.38 537.10h1.0M261.17 537.10h1.0M255.78 530.70v1.0M255.78 542.50v1.0M258.48 536.60h1.0M270.27 536.60h1.0M264.88 530.20v1.0M264.88 542.00v1.0M302.50 537.10h1.0M314.30 537.10h1.0M308.90 530.70v1.0M308.90 542.50v1.0M311.60 536.60h1.0M323.40 536.60h1.0M318.00 530.20v1.0M318.00 542.00v1.0M355.62 537.10h1.0M367.42 537.10h1.0M362.02 530.70v1.0M362.02 542.50v1.0M364.73 536.60h1.0M376.52 536.60h1.0M371.12 530.20v1.0M371.12 542.00v1.0M408.75 537.10h1.0M420.55 537.10h1.0M415.15 530.70v1.0M415.15 542.50v1.0M417.85 536.60h1.0M429.65 536.60h1.0M424.25 530.20v1.0M424.25 542.00v1.0M461.88 537.10h1.0M473.67 537.10h1.0M468.27 530.70v1.0M468.27 542.50v1.0M470.98 536.60h1.0M482.77 536.60h1.0M477.38 530.20v1.0M477.38 542.00v1.0M515.00 537.10h1.0M526.80 537.10h1.0M521.40 530.70v1.0M521.40 542.50v1.0M524.10 536.60h1.0M535.90 536.60h1.0M530.50 530.20v1.0M530.50 542.00v1.0M568.12 534.20h1.0M579.92 534.20h1.0M574.52 527.80v1.0M574.52 539.60v1.0M577.23 533.40h1.0M589.02 533.40h1.0M583.62 527.00v1.0M583.62 538.80v1.0M621.25 537.40h1.0M633.05 537.40h1.0M627.65 531.00v1.0M627.65 542.80v1.0M630.35 536.30h1.0M642.15 536.30h1.0M636.75 529.90v1.0M636.75 541.70v1.0M674.38 537.10h1.0M686.17 537.10h1.0M680.77 530.70v1.0M680.77 542.50v1.0M683.48 536.60h1.0M695.27 536.60h1.0M689.88 530.20v1.0M689.88 542.00v1.0M727.50 537.10h1.0M739.30 537.10h1.0M733.90 530.70v1.0M733.90 542.50v1.0M736.60 536.60h1.0M748.40 536.60h1.0M743.00 530.20v1.0M743.00 542.00v1.0M780.62 537.10h1.0M792.42 537.10h1.0M787.02 530.70v1.0M787.02 542.50v1.0M789.73 536.60h1.0M801.52 536.60h1.0M796.12 530.20v1.0M796.12 542.00v1.0M833.75 537.10h1.0M845.55 537.10h1.0M840.15 530.70v1.0M840.15 542.50v1.0M842.85 536.60h1.0M854.65 536.60h1.0M849.25 530.20v1.0M849.25 542.00v1.0M886.88 537.10h1.0M898.67 537.10h1.0M893.27 530.70v1.0M893.27 542.50v1.0M895.98 536.60h1.0M907.77 536.60h1.0M902.38 530.20v1.0M902.38 542.00v1.0M940.00 537.10h1.0M951.80 537.10h1.0M946.40 530.70v1.0M946.40 542.50v1.0M949.10 536.60h1.0M960.90 536.60h1.0M955.50 530.20v1.0M955.50 542.00v1.0M993.12 536.80h1.0M1004.92 536.80h1.0M999.52 530.40v1.0M999.52 542.20v1.0M1002.23 535.50h1.0M1014.02 535.50h1.0M1008.62 529.10v1.0M1008.62 540.90v1.0M1046.25 537.10h1.0M1058.05 537.10h1.0M1052.65 530.70v1.0M1052.65 542.50v1.0M1055.35 536.60h1.0M1067.15 536.60h1.0M1061.75 530.20v1.0M1061.75 542.00v1.0M1099.38 537.10h1.0M1111.18 537.10h1.0M1105.78 530.70v1.0M1105.78 542.50v1.0M1108.47 536.60h1.0M1120.28 536.60h1.0M1114.88 530.20v1.0M1114.88 542.00v1.0M1152.50 537.10h1.0M1164.30 537.10h1.0M1158.90 530.70v1.0M1158.90 542.50v1.0M1161.60 536.60h1.0M1173.40 536.60h1.0M1168.00 530.20v1.0M1168.00 542.00v1.0M1205.62 479.60h1.0M1217.43 479.60h1.0M1212.03 473.20v1.0M1212.03 485.00v1.0M1214.72 536.30h1.0M1226.53 536.30h1.0M1221.12 529.90v1.0M1221.12 541.70v1.0M1258.75 537.10h1.0M1270.55 537.10h1.0M1265.15 530.70v1.0M1265.15 542.50v1.0M1267.85 536.60h1.0M1279.65 536.60h1.0M1274.25 530.20v1.0M1274.25 542.00v1.0M1311.88 537.10h1.0M1323.68 537.10h1.0M1318.28 530.70v1.0M1318.28 542.50v1.0M1320.97 536.60h1.0M1332.78 536.60h1.0M1327.38 530.20v1.0M1327.38 542.00v1.0" fill="none" stroke="#e51e10" stroke-width="1"/>
<path d="M1303 73.5H1350" stroke="#9400d3" stroke-width="1" fill="none"/>
<path d="M1303 92.5H1350" stroke="#009e73" stroke-width="1" fill="none"/>
<rect x="1320.5" y="105.5" width="12" height="12" fill="none" stroke="#e69f00" stroke-width="1"/>
<rect x="1320.5" y="124.5" width="12" height="12" fill="#f0e442" stroke="#f0e442" stroke-width="1"/>
<path d="M1321.45 149.40a5.05 5.05 0 1 0 10.1 0a5.05 5.05 0 1 0 -10.1 0" fill="none" stroke="#0072b2" stroke-width="1.3"/>
<path d="M1320.05 149.40h1.0M1331.95 149.40h1.0M1326.50 142.95v1.0M1326.50 154.85v1.0" fill="none" stroke="#0072b2" stroke-width="1"/>
<path d="M1321.50 168.45a5.0 5.0 0 1 0 10.0 0a5.0 5.0 0 1 0 -10.0 0" fill="#e51e10" stroke="#e51e10" stroke-width="1.1"/>
<path d="M1320.10 168.45h1.0M1331.90 168.45h1.0M1326.50 162.05v1.0M1326.50 173.85v1.0" fill="none" stroke="#e51e10" stroke-width="1"/>
<path d="M1318.50 191.50L1326.50 179.50L1334.50 191.50Z" fill="none" stroke="#000" stroke-width="1"/>
<path d="M1318.50 210.50L1326.50 198.55L1334.50 210.50Z" fill="#9400d3" stroke="#9400d3" stroke-width="1"/>
<path d="M1320.0 225.5h13M1326.5 219.0v13" stroke="#009e73" stroke-width="1" fill="none"/>
<path d="M1318.50 240.50L1326.50 252.65L1334.50 240.50Z" fill="none" stroke="#56b4e9" stroke-width="1"/>
<path d="M1318.50 259.50L1326.50 271.70L1334.50 259.50Z" fill="none" stroke="#e69f00" stroke-width="1"/>
<rect x="94.5" y="57.5" width="1275.0" height="482.0" fill="none" stroke="#000" stroke-width="1"/>
</g></svg></body></html>
